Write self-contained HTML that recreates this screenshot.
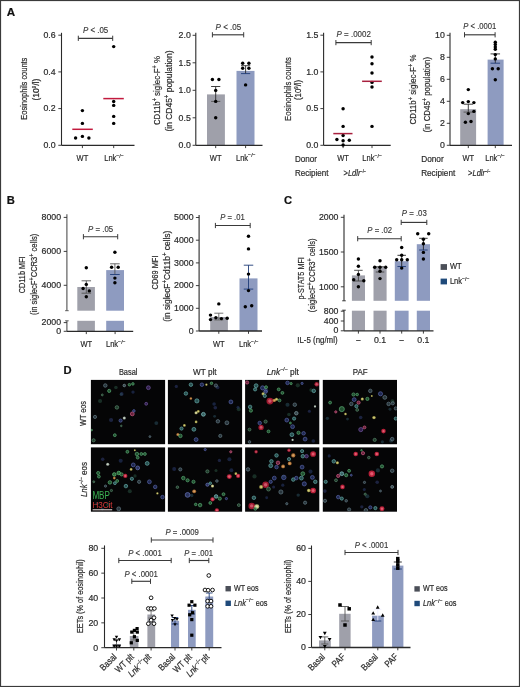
<!DOCTYPE html>
<html><head><meta charset="utf-8"><title>Figure</title>
<style>
html,body{margin:0;padding:0;background:#fff;}
body{width:520px;height:687px;overflow:hidden;}
svg{display:block;will-change:transform;}
text{font-family:"Liberation Sans", sans-serif;}
</style></head>
<body>
<svg width="520" height="687" viewBox="0 0 520 687" font-family="Liberation Sans, sans-serif">
<rect x="0.00" y="0.00" width="520.00" height="687.00" fill="#fff" />
<rect x="0.5" y="0.5" width="519" height="686" fill="none" stroke="#3a3a3a" stroke-width="1.2"/>
<text transform="translate(6.80,16.40)" font-size="11.60" text-anchor="start" fill="#111" font-weight="bold" font-style="normal"  stroke="#111" stroke-width="0.2">A</text>
<text transform="translate(6.80,203.80)" font-size="11.20" text-anchor="start" fill="#111" font-weight="bold" font-style="normal"  stroke="#111" stroke-width="0.2">B</text>
<text transform="translate(283.90,203.80)" font-size="11.20" text-anchor="start" fill="#111" font-weight="bold" font-style="normal"  stroke="#111" stroke-width="0.2">C</text>
<text transform="translate(63.50,374.00)" font-size="11.20" text-anchor="start" fill="#111" font-weight="bold" font-style="normal"  stroke="#111" stroke-width="0.2">D</text>
<line x1="61.50" y1="32.80" x2="61.50" y2="145.30" stroke="#2a2a2a" stroke-width="1.1" />
<line x1="58.30" y1="35.20" x2="61.50" y2="35.20" stroke="#2a2a2a" stroke-width="0.9" />
<text transform="translate(55.60,38.00) scale(0.98,1)" font-size="8.96" text-anchor="end" fill="#2a2a2a" font-weight="normal" font-style="normal"  stroke="#2a2a2a" stroke-width="0.2">0.6</text>
<line x1="58.30" y1="71.90" x2="61.50" y2="71.90" stroke="#2a2a2a" stroke-width="0.9" />
<text transform="translate(55.60,74.70) scale(0.98,1)" font-size="8.96" text-anchor="end" fill="#2a2a2a" font-weight="normal" font-style="normal"  stroke="#2a2a2a" stroke-width="0.2">0.4</text>
<line x1="58.30" y1="108.60" x2="61.50" y2="108.60" stroke="#2a2a2a" stroke-width="0.9" />
<text transform="translate(55.60,111.40) scale(0.98,1)" font-size="8.96" text-anchor="end" fill="#2a2a2a" font-weight="normal" font-style="normal"  stroke="#2a2a2a" stroke-width="0.2">0.2</text>
<line x1="58.30" y1="145.30" x2="61.50" y2="145.30" stroke="#2a2a2a" stroke-width="0.9" />
<text transform="translate(55.60,148.10) scale(0.98,1)" font-size="8.96" text-anchor="end" fill="#2a2a2a" font-weight="normal" font-style="normal"  stroke="#2a2a2a" stroke-width="0.2">0.0</text>
<line x1="61.50" y1="145.30" x2="134.50" y2="145.30" stroke="#2a2a2a" stroke-width="1.3" />
<line x1="82.40" y1="145.30" x2="82.40" y2="148.10" stroke="#2a2a2a" stroke-width="0.9" />
<line x1="113.70" y1="145.30" x2="113.70" y2="148.10" stroke="#2a2a2a" stroke-width="0.9" />
<text transform="translate(82.40,161.40) scale(0.84,1)" font-size="8.96" text-anchor="middle" fill="#2a2a2a" font-weight="normal" font-style="normal"  stroke="#2a2a2a" stroke-width="0.2">WT</text>
<text transform="translate(104.20,161.40) scale(0.84,1)" font-size="8.96" text-anchor="start" fill="#2a2a2a" font-weight="normal" font-style="normal"  stroke="#2a2a2a" stroke-width="0.2">Lnk<tspan font-size="6.2" dy="-3.4">−/−</tspan></text>
<text transform="translate(26.80,88.70) rotate(-90)" font-size="9.63" text-anchor="middle" fill="#2a2a2a" font-weight="normal" font-style="normal" textLength="62" lengthAdjust="spacingAndGlyphs"  stroke="#2a2a2a" stroke-width="0.2">Eosinophils counts</text>
<text transform="translate(38.60,89.60) rotate(-90)" font-size="9.63" text-anchor="middle" fill="#2a2a2a" font-weight="normal" font-style="normal" textLength="22" lengthAdjust="spacingAndGlyphs"  stroke="#2a2a2a" stroke-width="0.2">(10<tspan font-size="5" dy="-3">9</tspan><tspan dy="3">/l)</tspan></text>
<line x1="78.30" y1="38.30" x2="112.70" y2="38.30" stroke="#3a3a3a" stroke-width="1.15" />
<line x1="78.30" y1="35.70" x2="78.30" y2="40.90" stroke="#3a3a3a" stroke-width="1.0" />
<line x1="112.70" y1="35.70" x2="112.70" y2="40.90" stroke="#3a3a3a" stroke-width="1.0" />
<text transform="translate(95.60,32.90)" font-size="8.51" text-anchor="middle" fill="#383838" font-weight="normal" font-style="normal" textLength="25.3" lengthAdjust="spacingAndGlyphs"  stroke="#383838" stroke-width="0.15"><tspan font-style="italic">P</tspan> &lt; .05</text>
<circle cx="82.40" cy="110.60" r="1.72" fill="#000"/>
<circle cx="82.40" cy="123.40" r="1.72" fill="#000"/>
<circle cx="75.60" cy="138.00" r="1.72" fill="#000"/>
<circle cx="82.40" cy="136.40" r="1.72" fill="#000"/>
<circle cx="88.90" cy="138.00" r="1.72" fill="#000"/>
<circle cx="113.70" cy="46.60" r="1.72" fill="#000"/>
<circle cx="113.70" cy="101.50" r="1.72" fill="#000"/>
<circle cx="113.70" cy="105.40" r="1.72" fill="#000"/>
<circle cx="113.70" cy="116.40" r="1.72" fill="#000"/>
<circle cx="113.70" cy="123.40" r="1.72" fill="#000"/>
<line x1="72.30" y1="129.30" x2="92.80" y2="129.30" stroke="#c21a3e" stroke-width="1.5" />
<line x1="103.30" y1="98.60" x2="123.80" y2="98.60" stroke="#c21a3e" stroke-width="1.5" />
<line x1="195.80" y1="32.80" x2="195.80" y2="145.30" stroke="#2a2a2a" stroke-width="1.1" />
<line x1="192.60" y1="35.30" x2="195.80" y2="35.30" stroke="#2a2a2a" stroke-width="0.9" />
<text transform="translate(190.80,38.10) scale(0.98,1)" font-size="8.96" text-anchor="end" fill="#2a2a2a" font-weight="normal" font-style="normal"  stroke="#2a2a2a" stroke-width="0.2">2.0</text>
<line x1="192.60" y1="62.80" x2="195.80" y2="62.80" stroke="#2a2a2a" stroke-width="0.9" />
<text transform="translate(190.80,65.60) scale(0.98,1)" font-size="8.96" text-anchor="end" fill="#2a2a2a" font-weight="normal" font-style="normal"  stroke="#2a2a2a" stroke-width="0.2">1.5</text>
<line x1="192.60" y1="90.30" x2="195.80" y2="90.30" stroke="#2a2a2a" stroke-width="0.9" />
<text transform="translate(190.80,93.10) scale(0.98,1)" font-size="8.96" text-anchor="end" fill="#2a2a2a" font-weight="normal" font-style="normal"  stroke="#2a2a2a" stroke-width="0.2">1.0</text>
<line x1="192.60" y1="117.80" x2="195.80" y2="117.80" stroke="#2a2a2a" stroke-width="0.9" />
<text transform="translate(190.80,120.60) scale(0.98,1)" font-size="8.96" text-anchor="end" fill="#2a2a2a" font-weight="normal" font-style="normal"  stroke="#2a2a2a" stroke-width="0.2">0.5</text>
<line x1="192.60" y1="145.30" x2="195.80" y2="145.30" stroke="#2a2a2a" stroke-width="0.9" />
<text transform="translate(190.80,148.10) scale(0.98,1)" font-size="8.96" text-anchor="end" fill="#2a2a2a" font-weight="normal" font-style="normal"  stroke="#2a2a2a" stroke-width="0.2">0.0</text>
<rect x="207.00" y="94.40" width="17.90" height="50.90" fill="#9fa0aa" />
<rect x="236.50" y="70.90" width="18.00" height="74.40" fill="#8e9bc0" />
<line x1="195.80" y1="145.30" x2="262.50" y2="145.30" stroke="#2a2a2a" stroke-width="1.3" />
<line x1="215.70" y1="145.30" x2="215.70" y2="148.10" stroke="#2a2a2a" stroke-width="0.9" />
<line x1="245.60" y1="145.30" x2="245.60" y2="148.10" stroke="#2a2a2a" stroke-width="0.9" />
<text transform="translate(215.70,160.80) scale(0.84,1)" font-size="8.96" text-anchor="middle" fill="#2a2a2a" font-weight="normal" font-style="normal"  stroke="#2a2a2a" stroke-width="0.2">WT</text>
<text transform="translate(236.00,160.80) scale(0.84,1)" font-size="8.96" text-anchor="start" fill="#2a2a2a" font-weight="normal" font-style="normal"  stroke="#2a2a2a" stroke-width="0.2">Lnk<tspan font-size="6.2" dy="-3.4">−/−</tspan></text>
<text transform="translate(160.00,90.60) rotate(-90)" font-size="9.63" text-anchor="middle" fill="#2a2a2a" font-weight="normal" font-style="normal" textLength="69" lengthAdjust="spacingAndGlyphs"  stroke="#2a2a2a" stroke-width="0.2">CD11b<tspan font-size="6.8" dy="-3">+</tspan><tspan dy="3"> siglec-F</tspan><tspan font-size="6.8" dy="-3">+</tspan><tspan dy="3"> %</tspan></text>
<text transform="translate(171.80,91.00) rotate(-90)" font-size="9.63" text-anchor="middle" fill="#2a2a2a" font-weight="normal" font-style="normal" textLength="81" lengthAdjust="spacingAndGlyphs"  stroke="#2a2a2a" stroke-width="0.2">(in CD45<tspan font-size="6.8" dy="-3">+</tspan><tspan dy="3"> population)</tspan></text>
<line x1="212.40" y1="34.80" x2="243.70" y2="34.80" stroke="#3a3a3a" stroke-width="1.15" />
<line x1="212.40" y1="32.20" x2="212.40" y2="37.40" stroke="#3a3a3a" stroke-width="1.0" />
<line x1="243.70" y1="32.20" x2="243.70" y2="37.40" stroke="#3a3a3a" stroke-width="1.0" />
<text transform="translate(228.40,30.00)" font-size="8.51" text-anchor="middle" fill="#383838" font-weight="normal" font-style="normal" textLength="25.6" lengthAdjust="spacingAndGlyphs"  stroke="#383838" stroke-width="0.15"><tspan font-style="italic">P</tspan> &lt; .05</text>
<line x1="215.70" y1="86.50" x2="215.70" y2="101.40" stroke="#2a2a2a" stroke-width="0.9" />
<line x1="211.10" y1="86.50" x2="220.30" y2="86.50" stroke="#2a2a2a" stroke-width="0.9" />
<line x1="211.10" y1="101.40" x2="220.30" y2="101.40" stroke="#555" stroke-width="0.9" />
<line x1="245.60" y1="65.70" x2="245.60" y2="73.60" stroke="#2a2a2a" stroke-width="0.9" />
<line x1="241.00" y1="65.70" x2="250.20" y2="65.70" stroke="#2a2a2a" stroke-width="0.9" />
<line x1="241.00" y1="73.60" x2="250.20" y2="73.60" stroke="#1f3c78" stroke-width="0.9" />
<circle cx="212.40" cy="79.50" r="1.72" fill="#000"/>
<circle cx="218.90" cy="79.50" r="1.72" fill="#000"/>
<circle cx="215.70" cy="90.40" r="1.72" fill="#000"/>
<circle cx="215.70" cy="101.40" r="1.72" fill="#000"/>
<circle cx="215.70" cy="117.80" r="1.72" fill="#000"/>
<circle cx="242.70" cy="63.20" r="1.72" fill="#000"/>
<circle cx="248.90" cy="63.20" r="1.72" fill="#000"/>
<circle cx="242.70" cy="68.30" r="1.72" fill="#000"/>
<circle cx="248.90" cy="68.30" r="1.72" fill="#000"/>
<circle cx="245.60" cy="84.90" r="1.72" fill="#000"/>
<line x1="323.60" y1="32.80" x2="323.60" y2="145.30" stroke="#2a2a2a" stroke-width="1.1" />
<line x1="320.40" y1="35.20" x2="323.60" y2="35.20" stroke="#2a2a2a" stroke-width="0.9" />
<text transform="translate(318.40,38.00) scale(0.98,1)" font-size="8.96" text-anchor="end" fill="#2a2a2a" font-weight="normal" font-style="normal"  stroke="#2a2a2a" stroke-width="0.2">1.5</text>
<line x1="320.40" y1="71.90" x2="323.60" y2="71.90" stroke="#2a2a2a" stroke-width="0.9" />
<text transform="translate(318.40,74.70) scale(0.98,1)" font-size="8.96" text-anchor="end" fill="#2a2a2a" font-weight="normal" font-style="normal"  stroke="#2a2a2a" stroke-width="0.2">1.0</text>
<line x1="320.40" y1="108.60" x2="323.60" y2="108.60" stroke="#2a2a2a" stroke-width="0.9" />
<text transform="translate(318.40,111.40) scale(0.98,1)" font-size="8.96" text-anchor="end" fill="#2a2a2a" font-weight="normal" font-style="normal"  stroke="#2a2a2a" stroke-width="0.2">0.5</text>
<line x1="320.40" y1="145.30" x2="323.60" y2="145.30" stroke="#2a2a2a" stroke-width="0.9" />
<text transform="translate(318.40,148.10) scale(0.98,1)" font-size="8.96" text-anchor="end" fill="#2a2a2a" font-weight="normal" font-style="normal"  stroke="#2a2a2a" stroke-width="0.2">0.0</text>
<line x1="323.60" y1="145.30" x2="390.70" y2="145.30" stroke="#2a2a2a" stroke-width="1.3" />
<line x1="343.10" y1="145.30" x2="343.10" y2="148.10" stroke="#2a2a2a" stroke-width="0.9" />
<line x1="372.00" y1="145.30" x2="372.00" y2="148.10" stroke="#2a2a2a" stroke-width="0.9" />
<text transform="translate(343.10,161.40) scale(0.84,1)" font-size="8.96" text-anchor="middle" fill="#2a2a2a" font-weight="normal" font-style="normal"  stroke="#2a2a2a" stroke-width="0.2">WT</text>
<text transform="translate(362.30,161.40) scale(0.84,1)" font-size="8.96" text-anchor="start" fill="#2a2a2a" font-weight="normal" font-style="normal"  stroke="#2a2a2a" stroke-width="0.2">Lnk<tspan font-size="6.2" dy="-3.4">−/−</tspan></text>
<text transform="translate(295.00,161.60)" font-size="8.96" text-anchor="start" fill="#2a2a2a" font-weight="normal" font-style="normal" textLength="22" lengthAdjust="spacingAndGlyphs"  stroke="#2a2a2a" stroke-width="0.2">Donor</text>
<text transform="translate(295.00,176.40)" font-size="8.96" text-anchor="start" fill="#2a2a2a" font-weight="normal" font-style="normal" textLength="33.5" lengthAdjust="spacingAndGlyphs"  stroke="#2a2a2a" stroke-width="0.2">Recipient</text>
<text transform="translate(343.50,176.40) scale(0.84,1)" font-size="8.96" text-anchor="start" fill="#2a2a2a" font-weight="normal" font-style="normal"  stroke="#2a2a2a" stroke-width="0.2">&gt;<tspan font-style="italic">Ldlr</tspan><tspan font-size="4.6" dy="-3.2">−/−</tspan></text>
<text transform="translate(290.60,89.00) rotate(-90)" font-size="9.63" text-anchor="middle" fill="#2a2a2a" font-weight="normal" font-style="normal" textLength="63.8" lengthAdjust="spacingAndGlyphs"  stroke="#2a2a2a" stroke-width="0.2">Eosinophils counts</text>
<text transform="translate(301.20,89.90) rotate(-90)" font-size="9.63" text-anchor="middle" fill="#2a2a2a" font-weight="normal" font-style="normal" textLength="20.2" lengthAdjust="spacingAndGlyphs"  stroke="#2a2a2a" stroke-width="0.2">(10<tspan font-size="5" dy="-3">9</tspan><tspan dy="3">/l)</tspan></text>
<line x1="335.90" y1="42.60" x2="371.20" y2="42.60" stroke="#3a3a3a" stroke-width="1.15" />
<line x1="335.90" y1="40.00" x2="335.90" y2="45.20" stroke="#3a3a3a" stroke-width="1.0" />
<line x1="371.20" y1="40.00" x2="371.20" y2="45.20" stroke="#3a3a3a" stroke-width="1.0" />
<text transform="translate(353.70,37.30)" font-size="8.51" text-anchor="middle" fill="#383838" font-weight="normal" font-style="normal" textLength="34.2" lengthAdjust="spacingAndGlyphs"  stroke="#383838" stroke-width="0.15"><tspan font-style="italic">P</tspan> = .0002</text>
<circle cx="343.10" cy="108.80" r="1.72" fill="#000"/>
<circle cx="343.10" cy="126.40" r="1.72" fill="#000"/>
<circle cx="343.10" cy="135.50" r="1.72" fill="#000"/>
<circle cx="336.90" cy="139.50" r="1.72" fill="#000"/>
<circle cx="343.10" cy="140.80" r="1.72" fill="#000"/>
<circle cx="349.30" cy="140.20" r="1.72" fill="#000"/>
<circle cx="343.10" cy="145.00" r="1.72" fill="#000"/>
<circle cx="372.00" cy="57.00" r="1.72" fill="#000"/>
<circle cx="372.00" cy="63.70" r="1.72" fill="#000"/>
<circle cx="372.00" cy="73.00" r="1.72" fill="#000"/>
<circle cx="372.00" cy="82.40" r="1.72" fill="#000"/>
<circle cx="372.00" cy="87.00" r="1.72" fill="#000"/>
<circle cx="372.00" cy="126.40" r="1.72" fill="#000"/>
<line x1="333.30" y1="133.60" x2="352.50" y2="133.60" stroke="#a8203e" stroke-width="1.5" />
<line x1="362.10" y1="81.30" x2="381.80" y2="81.30" stroke="#a8203e" stroke-width="1.5" />
<line x1="450.00" y1="32.80" x2="450.00" y2="145.30" stroke="#2a2a2a" stroke-width="1.1" />
<line x1="446.80" y1="35.30" x2="450.00" y2="35.30" stroke="#2a2a2a" stroke-width="0.9" />
<text transform="translate(444.80,38.10) scale(0.98,1)" font-size="8.96" text-anchor="end" fill="#2a2a2a" font-weight="normal" font-style="normal"  stroke="#2a2a2a" stroke-width="0.2">10</text>
<line x1="446.80" y1="57.30" x2="450.00" y2="57.30" stroke="#2a2a2a" stroke-width="0.9" />
<text transform="translate(444.80,60.10) scale(0.98,1)" font-size="8.96" text-anchor="end" fill="#2a2a2a" font-weight="normal" font-style="normal"  stroke="#2a2a2a" stroke-width="0.2">8</text>
<line x1="446.80" y1="79.30" x2="450.00" y2="79.30" stroke="#2a2a2a" stroke-width="0.9" />
<text transform="translate(444.80,82.10) scale(0.98,1)" font-size="8.96" text-anchor="end" fill="#2a2a2a" font-weight="normal" font-style="normal"  stroke="#2a2a2a" stroke-width="0.2">6</text>
<line x1="446.80" y1="101.30" x2="450.00" y2="101.30" stroke="#2a2a2a" stroke-width="0.9" />
<text transform="translate(444.80,104.10) scale(0.98,1)" font-size="8.96" text-anchor="end" fill="#2a2a2a" font-weight="normal" font-style="normal"  stroke="#2a2a2a" stroke-width="0.2">4</text>
<line x1="446.80" y1="123.30" x2="450.00" y2="123.30" stroke="#2a2a2a" stroke-width="0.9" />
<text transform="translate(444.80,126.10) scale(0.98,1)" font-size="8.96" text-anchor="end" fill="#2a2a2a" font-weight="normal" font-style="normal"  stroke="#2a2a2a" stroke-width="0.2">2</text>
<line x1="446.80" y1="145.30" x2="450.00" y2="145.30" stroke="#2a2a2a" stroke-width="0.9" />
<text transform="translate(444.80,148.10) scale(0.98,1)" font-size="8.96" text-anchor="end" fill="#2a2a2a" font-weight="normal" font-style="normal"  stroke="#2a2a2a" stroke-width="0.2">0</text>
<rect x="460.20" y="109.20" width="15.90" height="36.10" fill="#9fa0aa" />
<rect x="487.60" y="59.60" width="16.00" height="85.70" fill="#8e9bc0" />
<line x1="450.00" y1="145.30" x2="512.00" y2="145.30" stroke="#2a2a2a" stroke-width="1.3" />
<line x1="468.30" y1="145.30" x2="468.30" y2="148.10" stroke="#2a2a2a" stroke-width="0.9" />
<line x1="495.30" y1="145.30" x2="495.30" y2="148.10" stroke="#2a2a2a" stroke-width="0.9" />
<text transform="translate(468.30,161.40) scale(0.84,1)" font-size="8.96" text-anchor="middle" fill="#2a2a2a" font-weight="normal" font-style="normal"  stroke="#2a2a2a" stroke-width="0.2">WT</text>
<text transform="translate(485.20,161.40) scale(0.84,1)" font-size="8.96" text-anchor="start" fill="#2a2a2a" font-weight="normal" font-style="normal"  stroke="#2a2a2a" stroke-width="0.2">Lnk<tspan font-size="6.2" dy="-3.4">−/−</tspan></text>
<text transform="translate(421.20,161.60)" font-size="8.96" text-anchor="start" fill="#2a2a2a" font-weight="normal" font-style="normal" textLength="22.5" lengthAdjust="spacingAndGlyphs"  stroke="#2a2a2a" stroke-width="0.2">Donor</text>
<text transform="translate(421.20,176.40)" font-size="8.96" text-anchor="start" fill="#2a2a2a" font-weight="normal" font-style="normal" textLength="34" lengthAdjust="spacingAndGlyphs"  stroke="#2a2a2a" stroke-width="0.2">Recipient</text>
<text transform="translate(468.10,176.40) scale(0.84,1)" font-size="8.96" text-anchor="start" fill="#2a2a2a" font-weight="normal" font-style="normal"  stroke="#2a2a2a" stroke-width="0.2">&gt;<tspan font-style="italic">Ldlr</tspan><tspan font-size="4.6" dy="-3.2">−/−</tspan></text>
<text transform="translate(416.40,89.50) rotate(-90)" font-size="9.63" text-anchor="middle" fill="#2a2a2a" font-weight="normal" font-style="normal" textLength="70" lengthAdjust="spacingAndGlyphs"  stroke="#2a2a2a" stroke-width="0.2">CD11b<tspan font-size="6.8" dy="-3">+</tspan><tspan dy="3"> siglec-F</tspan><tspan font-size="6.8" dy="-3">+</tspan><tspan dy="3"> %</tspan></text>
<text transform="translate(429.60,94.60) rotate(-90)" font-size="9.63" text-anchor="middle" fill="#2a2a2a" font-weight="normal" font-style="normal" textLength="75.3" lengthAdjust="spacingAndGlyphs"  stroke="#2a2a2a" stroke-width="0.2">(in CD45<tspan font-size="6.8" dy="-3">+</tspan><tspan dy="3"> population)</tspan></text>
<line x1="464.50" y1="34.80" x2="495.10" y2="34.80" stroke="#3a3a3a" stroke-width="1.15" />
<line x1="464.50" y1="32.20" x2="464.50" y2="37.40" stroke="#3a3a3a" stroke-width="1.0" />
<line x1="495.10" y1="32.20" x2="495.10" y2="37.40" stroke="#3a3a3a" stroke-width="1.0" />
<text transform="translate(479.80,29.20)" font-size="8.51" text-anchor="middle" fill="#383838" font-weight="normal" font-style="normal" textLength="33" lengthAdjust="spacingAndGlyphs"  stroke="#383838" stroke-width="0.15"><tspan font-style="italic">P</tspan> &lt; .0001</text>
<line x1="468.30" y1="104.20" x2="468.30" y2="112.10" stroke="#2a2a2a" stroke-width="0.9" />
<line x1="463.55" y1="104.20" x2="473.05" y2="104.20" stroke="#2a2a2a" stroke-width="0.9" />
<line x1="463.55" y1="112.10" x2="473.05" y2="112.10" stroke="#555" stroke-width="0.9" />
<line x1="495.30" y1="53.90" x2="495.30" y2="63.20" stroke="#2a2a2a" stroke-width="0.9" />
<line x1="490.55" y1="53.90" x2="500.05" y2="53.90" stroke="#2a2a2a" stroke-width="0.9" />
<line x1="490.55" y1="63.20" x2="500.05" y2="63.20" stroke="#1f3c78" stroke-width="0.9" />
<circle cx="468.30" cy="89.60" r="1.72" fill="#000"/>
<circle cx="462.70" cy="102.60" r="1.72" fill="#000"/>
<circle cx="468.30" cy="101.60" r="1.72" fill="#000"/>
<circle cx="473.90" cy="102.60" r="1.72" fill="#000"/>
<circle cx="473.90" cy="111.40" r="1.72" fill="#000"/>
<circle cx="468.30" cy="113.60" r="1.72" fill="#000"/>
<circle cx="465.40" cy="122.20" r="1.72" fill="#000"/>
<circle cx="471.00" cy="121.50" r="1.72" fill="#000"/>
<circle cx="495.30" cy="42.30" r="1.72" fill="#000"/>
<circle cx="495.30" cy="44.50" r="1.72" fill="#000"/>
<circle cx="495.30" cy="46.90" r="1.72" fill="#000"/>
<circle cx="495.30" cy="49.20" r="1.72" fill="#000"/>
<circle cx="495.30" cy="54.60" r="1.72" fill="#000"/>
<circle cx="495.30" cy="58.90" r="1.72" fill="#000"/>
<circle cx="492.40" cy="68.70" r="1.72" fill="#000"/>
<circle cx="498.20" cy="68.70" r="1.72" fill="#000"/>
<circle cx="495.30" cy="79.80" r="1.72" fill="#000"/>
<line x1="66.90" y1="214.20" x2="66.90" y2="310.70" stroke="#505050" stroke-width="1.1" />
<line x1="66.90" y1="320.80" x2="66.90" y2="331.30" stroke="#505050" stroke-width="1.1" />
<line x1="65.10" y1="310.70" x2="68.70" y2="310.70" stroke="#505050" stroke-width="0.9" />
<line x1="65.10" y1="320.80" x2="68.70" y2="320.80" stroke="#505050" stroke-width="0.9" />
<line x1="63.70" y1="217.40" x2="66.90" y2="217.40" stroke="#2a2a2a" stroke-width="0.9" />
<line x1="63.70" y1="251.40" x2="66.90" y2="251.40" stroke="#2a2a2a" stroke-width="0.9" />
<line x1="63.70" y1="285.30" x2="66.90" y2="285.30" stroke="#2a2a2a" stroke-width="0.9" />
<line x1="63.70" y1="322.60" x2="66.90" y2="322.60" stroke="#2a2a2a" stroke-width="0.9" />
<line x1="63.70" y1="331.30" x2="66.90" y2="331.30" stroke="#2a2a2a" stroke-width="0.9" />
<text transform="translate(61.10,220.20) scale(0.98,1)" font-size="8.96" text-anchor="end" fill="#2a2a2a" font-weight="normal" font-style="normal"  stroke="#2a2a2a" stroke-width="0.2">8000</text>
<text transform="translate(61.10,254.20) scale(0.98,1)" font-size="8.96" text-anchor="end" fill="#2a2a2a" font-weight="normal" font-style="normal"  stroke="#2a2a2a" stroke-width="0.2">6000</text>
<text transform="translate(61.10,288.10) scale(0.98,1)" font-size="8.96" text-anchor="end" fill="#2a2a2a" font-weight="normal" font-style="normal"  stroke="#2a2a2a" stroke-width="0.2">4000</text>
<text transform="translate(61.10,325.40) scale(0.98,1)" font-size="8.96" text-anchor="end" fill="#2a2a2a" font-weight="normal" font-style="normal"  stroke="#2a2a2a" stroke-width="0.2">2000</text>
<text transform="translate(61.10,333.60) scale(0.98,1)" font-size="8.96" text-anchor="end" fill="#2a2a2a" font-weight="normal" font-style="normal"  stroke="#2a2a2a" stroke-width="0.2">0</text>
<rect x="77.30" y="287.00" width="17.60" height="23.70" fill="#9fa0aa" />
<rect x="77.30" y="320.80" width="17.60" height="10.50" fill="#9fa0aa" />
<rect x="106.20" y="270.10" width="17.80" height="40.60" fill="#8e9bc0" />
<rect x="106.20" y="320.80" width="17.80" height="10.50" fill="#8e9bc0" />
<line x1="66.90" y1="331.30" x2="133.20" y2="331.30" stroke="#2a2a2a" stroke-width="1.3" />
<line x1="86.30" y1="331.30" x2="86.30" y2="334.10" stroke="#2a2a2a" stroke-width="0.9" />
<line x1="115.10" y1="331.30" x2="115.10" y2="334.10" stroke="#2a2a2a" stroke-width="0.9" />
<text transform="translate(86.30,347.40) scale(0.84,1)" font-size="8.96" text-anchor="middle" fill="#2a2a2a" font-weight="normal" font-style="normal"  stroke="#2a2a2a" stroke-width="0.2">WT</text>
<text transform="translate(106.00,347.40) scale(0.84,1)" font-size="8.96" text-anchor="start" fill="#2a2a2a" font-weight="normal" font-style="normal"  stroke="#2a2a2a" stroke-width="0.2">Lnk<tspan font-size="6.2" dy="-3.4">−/−</tspan></text>
<text transform="translate(24.60,274.80) rotate(-90)" font-size="9.63" text-anchor="middle" fill="#2a2a2a" font-weight="normal" font-style="normal" textLength="36.9" lengthAdjust="spacingAndGlyphs"  stroke="#2a2a2a" stroke-width="0.2">CD11b MFI</text>
<text transform="translate(37.40,274.40) rotate(-90)" font-size="9.63" text-anchor="middle" fill="#2a2a2a" font-weight="normal" font-style="normal" textLength="81.4" lengthAdjust="spacingAndGlyphs"  stroke="#2a2a2a" stroke-width="0.2">(in siglecF<tspan font-size="6.8" dy="-3">+</tspan><tspan dy="3">CCR3</tspan><tspan font-size="6.8" dy="-3">+</tspan><tspan dy="3"> cells)</tspan></text>
<line x1="83.40" y1="236.70" x2="117.70" y2="236.70" stroke="#3a3a3a" stroke-width="1.15" />
<line x1="83.40" y1="234.10" x2="83.40" y2="239.30" stroke="#3a3a3a" stroke-width="1.0" />
<line x1="117.70" y1="234.10" x2="117.70" y2="239.30" stroke="#3a3a3a" stroke-width="1.0" />
<text transform="translate(100.60,231.60)" font-size="8.51" text-anchor="middle" fill="#383838" font-weight="normal" font-style="normal" textLength="25" lengthAdjust="spacingAndGlyphs"  stroke="#383838" stroke-width="0.15"><tspan font-style="italic">P</tspan> = .05</text>
<line x1="86.30" y1="280.80" x2="86.30" y2="293.20" stroke="#555" stroke-width="0.9" />
<line x1="81.55" y1="280.80" x2="91.05" y2="280.80" stroke="#555" stroke-width="0.9" />
<line x1="81.55" y1="293.20" x2="91.05" y2="293.20" stroke="#555" stroke-width="0.9" />
<line x1="114.90" y1="263.80" x2="114.90" y2="274.50" stroke="#555" stroke-width="0.9" />
<line x1="110.10" y1="263.80" x2="119.70" y2="263.80" stroke="#555" stroke-width="0.9" />
<line x1="110.10" y1="274.50" x2="119.70" y2="274.50" stroke="#1f3c78" stroke-width="0.9" />
<circle cx="86.30" cy="267.70" r="1.72" fill="#000"/>
<circle cx="86.30" cy="284.40" r="1.72" fill="#000"/>
<circle cx="83.10" cy="288.50" r="1.72" fill="#000"/>
<circle cx="89.30" cy="290.90" r="1.72" fill="#000"/>
<circle cx="86.30" cy="296.70" r="1.72" fill="#000"/>
<circle cx="114.90" cy="252.30" r="1.72" fill="#000"/>
<circle cx="111.60" cy="267.20" r="1.72" fill="#000"/>
<circle cx="118.20" cy="267.20" r="1.72" fill="#000"/>
<circle cx="114.90" cy="278.10" r="1.72" fill="#000"/>
<circle cx="114.90" cy="282.70" r="1.72" fill="#000"/>
<line x1="199.10" y1="215.00" x2="199.10" y2="331.00" stroke="#2a2a2a" stroke-width="1.1" />
<line x1="195.90" y1="217.50" x2="199.10" y2="217.50" stroke="#2a2a2a" stroke-width="0.9" />
<text transform="translate(193.60,220.30) scale(0.98,1)" font-size="8.96" text-anchor="end" fill="#2a2a2a" font-weight="normal" font-style="normal"  stroke="#2a2a2a" stroke-width="0.2">5000</text>
<line x1="195.90" y1="240.20" x2="199.10" y2="240.20" stroke="#2a2a2a" stroke-width="0.9" />
<text transform="translate(193.60,243.00) scale(0.98,1)" font-size="8.96" text-anchor="end" fill="#2a2a2a" font-weight="normal" font-style="normal"  stroke="#2a2a2a" stroke-width="0.2">4000</text>
<line x1="195.90" y1="262.90" x2="199.10" y2="262.90" stroke="#2a2a2a" stroke-width="0.9" />
<text transform="translate(193.60,265.70) scale(0.98,1)" font-size="8.96" text-anchor="end" fill="#2a2a2a" font-weight="normal" font-style="normal"  stroke="#2a2a2a" stroke-width="0.2">3000</text>
<line x1="195.90" y1="285.60" x2="199.10" y2="285.60" stroke="#2a2a2a" stroke-width="0.9" />
<text transform="translate(193.60,288.40) scale(0.98,1)" font-size="8.96" text-anchor="end" fill="#2a2a2a" font-weight="normal" font-style="normal"  stroke="#2a2a2a" stroke-width="0.2">2000</text>
<line x1="195.90" y1="308.30" x2="199.10" y2="308.30" stroke="#2a2a2a" stroke-width="0.9" />
<text transform="translate(193.60,311.10) scale(0.98,1)" font-size="8.96" text-anchor="end" fill="#2a2a2a" font-weight="normal" font-style="normal"  stroke="#2a2a2a" stroke-width="0.2">1000</text>
<line x1="195.90" y1="331.00" x2="199.10" y2="331.00" stroke="#2a2a2a" stroke-width="0.9" />
<text transform="translate(193.60,333.80) scale(0.98,1)" font-size="8.96" text-anchor="end" fill="#2a2a2a" font-weight="normal" font-style="normal"  stroke="#2a2a2a" stroke-width="0.2">0</text>
<rect x="210.20" y="317.00" width="17.70" height="14.00" fill="#9fa0aa" />
<rect x="239.50" y="278.40" width="18.00" height="52.60" fill="#8e9bc0" />
<line x1="199.10" y1="331.00" x2="262.00" y2="331.00" stroke="#2a2a2a" stroke-width="1.3" />
<line x1="218.80" y1="331.00" x2="218.80" y2="333.80" stroke="#2a2a2a" stroke-width="0.9" />
<line x1="248.50" y1="331.00" x2="248.50" y2="333.80" stroke="#2a2a2a" stroke-width="0.9" />
<text transform="translate(218.80,347.40) scale(0.84,1)" font-size="8.96" text-anchor="middle" fill="#2a2a2a" font-weight="normal" font-style="normal"  stroke="#2a2a2a" stroke-width="0.2">WT</text>
<text transform="translate(239.00,347.40) scale(0.84,1)" font-size="8.96" text-anchor="start" fill="#2a2a2a" font-weight="normal" font-style="normal"  stroke="#2a2a2a" stroke-width="0.2">Lnk<tspan font-size="6.2" dy="-3.4">−/−</tspan></text>
<text transform="translate(157.60,272.50) rotate(-90)" font-size="9.63" text-anchor="middle" fill="#2a2a2a" font-weight="normal" font-style="normal" textLength="34" lengthAdjust="spacingAndGlyphs"  stroke="#2a2a2a" stroke-width="0.2">CD69 MFI</text>
<text transform="translate(169.60,276.20) rotate(-90)" font-size="9.63" text-anchor="middle" fill="#2a2a2a" font-weight="normal" font-style="normal" textLength="91" lengthAdjust="spacingAndGlyphs"  stroke="#2a2a2a" stroke-width="0.2">(in siglecF<tspan font-size="6.8" dy="-3">+</tspan><tspan dy="3">Cd11b</tspan><tspan font-size="6.8" dy="-3">+</tspan><tspan dy="3"> cells)</tspan></text>
<line x1="215.40" y1="225.50" x2="250.20" y2="225.50" stroke="#3a3a3a" stroke-width="1.15" />
<line x1="215.40" y1="222.90" x2="215.40" y2="228.10" stroke="#3a3a3a" stroke-width="1.0" />
<line x1="250.20" y1="222.90" x2="250.20" y2="228.10" stroke="#3a3a3a" stroke-width="1.0" />
<text transform="translate(232.40,219.70)" font-size="8.51" text-anchor="middle" fill="#383838" font-weight="normal" font-style="normal" textLength="24.5" lengthAdjust="spacingAndGlyphs"  stroke="#383838" stroke-width="0.15"><tspan font-style="italic">P</tspan> = .01</text>
<line x1="248.50" y1="265.20" x2="248.50" y2="289.10" stroke="#1f3c78" stroke-width="0.9" />
<line x1="243.75" y1="265.20" x2="253.25" y2="265.20" stroke="#1f3c78" stroke-width="0.9" />
<line x1="243.75" y1="289.10" x2="253.25" y2="289.10" stroke="#1f3c78" stroke-width="0.9" />
<line x1="218.80" y1="313.20" x2="218.80" y2="320.00" stroke="#666" stroke-width="0.9" />
<line x1="214.30" y1="313.20" x2="223.30" y2="313.20" stroke="#666" stroke-width="0.9" />
<line x1="214.30" y1="320.00" x2="223.30" y2="320.00" stroke="#666" stroke-width="0.9" />
<circle cx="218.80" cy="303.90" r="1.72" fill="#000"/>
<circle cx="210.50" cy="315.10" r="1.72" fill="#000"/>
<circle cx="210.50" cy="319.60" r="1.72" fill="#000"/>
<circle cx="215.90" cy="317.70" r="1.72" fill="#000"/>
<circle cx="221.40" cy="318.60" r="1.72" fill="#000"/>
<circle cx="227.20" cy="318.30" r="1.72" fill="#000"/>
<circle cx="248.50" cy="236.20" r="1.72" fill="#000"/>
<circle cx="248.50" cy="248.90" r="1.72" fill="#000"/>
<circle cx="248.50" cy="274.10" r="1.72" fill="#000"/>
<circle cx="248.50" cy="290.60" r="1.72" fill="#000"/>
<circle cx="245.30" cy="306.70" r="1.72" fill="#000"/>
<circle cx="251.70" cy="305.80" r="1.72" fill="#000"/>
<line x1="344.00" y1="214.80" x2="344.00" y2="300.80" stroke="#2a2a2a" stroke-width="1.1" />
<line x1="344.00" y1="310.20" x2="344.00" y2="330.80" stroke="#2a2a2a" stroke-width="1.1" />
<line x1="342.20" y1="300.80" x2="345.80" y2="300.80" stroke="#2a2a2a" stroke-width="0.9" />
<line x1="342.20" y1="310.20" x2="345.80" y2="310.20" stroke="#2a2a2a" stroke-width="0.9" />
<line x1="340.80" y1="217.30" x2="344.00" y2="217.30" stroke="#2a2a2a" stroke-width="0.9" />
<line x1="340.80" y1="252.00" x2="344.00" y2="252.00" stroke="#2a2a2a" stroke-width="0.9" />
<line x1="340.80" y1="286.80" x2="344.00" y2="286.80" stroke="#2a2a2a" stroke-width="0.9" />
<line x1="340.80" y1="311.20" x2="344.00" y2="311.20" stroke="#2a2a2a" stroke-width="0.9" />
<line x1="340.80" y1="321.00" x2="344.00" y2="321.00" stroke="#2a2a2a" stroke-width="0.9" />
<line x1="340.80" y1="330.80" x2="344.00" y2="330.80" stroke="#2a2a2a" stroke-width="0.9" />
<text transform="translate(338.40,220.10) scale(0.98,1)" font-size="8.96" text-anchor="end" fill="#2a2a2a" font-weight="normal" font-style="normal"  stroke="#2a2a2a" stroke-width="0.2">2000</text>
<text transform="translate(338.40,254.80) scale(0.98,1)" font-size="8.96" text-anchor="end" fill="#2a2a2a" font-weight="normal" font-style="normal"  stroke="#2a2a2a" stroke-width="0.2">1500</text>
<text transform="translate(338.40,289.60) scale(0.98,1)" font-size="8.96" text-anchor="end" fill="#2a2a2a" font-weight="normal" font-style="normal"  stroke="#2a2a2a" stroke-width="0.2">1000</text>
<text transform="translate(338.40,314.00) scale(0.98,1)" font-size="8.96" text-anchor="end" fill="#2a2a2a" font-weight="normal" font-style="normal"  stroke="#2a2a2a" stroke-width="0.2">800</text>
<text transform="translate(338.40,323.80) scale(0.98,1)" font-size="8.96" text-anchor="end" fill="#2a2a2a" font-weight="normal" font-style="normal"  stroke="#2a2a2a" stroke-width="0.2">400</text>
<text transform="translate(338.40,333.40) scale(0.98,1)" font-size="8.96" text-anchor="end" fill="#2a2a2a" font-weight="normal" font-style="normal"  stroke="#2a2a2a" stroke-width="0.2">0</text>
<rect x="351.90" y="275.40" width="13.10" height="25.40" fill="#9fa0aa" />
<rect x="351.90" y="310.70" width="13.10" height="20.10" fill="#9fa0aa" />
<rect x="373.50" y="267.00" width="13.10" height="33.80" fill="#9fa0aa" />
<rect x="373.50" y="310.70" width="13.10" height="20.10" fill="#9fa0aa" />
<rect x="394.80" y="261.20" width="13.80" height="39.60" fill="#8e9bc0" />
<rect x="394.80" y="310.70" width="13.80" height="20.10" fill="#8e9bc0" />
<rect x="416.80" y="244.20" width="13.20" height="56.60" fill="#8e9bc0" />
<rect x="416.80" y="310.70" width="13.20" height="20.10" fill="#8e9bc0" />
<line x1="344.00" y1="330.80" x2="433.50" y2="330.80" stroke="#2a2a2a" stroke-width="1.3" />
<line x1="358.40" y1="330.80" x2="358.40" y2="333.60" stroke="#2a2a2a" stroke-width="0.9" />
<line x1="380.00" y1="330.80" x2="380.00" y2="333.60" stroke="#2a2a2a" stroke-width="0.9" />
<line x1="401.70" y1="330.80" x2="401.70" y2="333.60" stroke="#2a2a2a" stroke-width="0.9" />
<line x1="423.40" y1="330.80" x2="423.40" y2="333.60" stroke="#2a2a2a" stroke-width="0.9" />
<text transform="translate(297.20,343.20)" font-size="8.96" text-anchor="start" fill="#2a2a2a" font-weight="normal" font-style="normal" textLength="40.4" lengthAdjust="spacingAndGlyphs"  stroke="#2a2a2a" stroke-width="0.2">IL-5 (ng/ml)</text>
<text transform="translate(358.40,343.20) scale(0.84,1)" font-size="8.96" text-anchor="middle" fill="#2a2a2a" font-weight="normal" font-style="normal"  stroke="#2a2a2a" stroke-width="0.2">–</text>
<text transform="translate(380.00,343.20) scale(0.98,1)" font-size="8.96" text-anchor="middle" fill="#2a2a2a" font-weight="normal" font-style="normal"  stroke="#2a2a2a" stroke-width="0.2">0.1</text>
<text transform="translate(401.70,343.20) scale(0.84,1)" font-size="8.96" text-anchor="middle" fill="#2a2a2a" font-weight="normal" font-style="normal"  stroke="#2a2a2a" stroke-width="0.2">–</text>
<text transform="translate(423.40,343.20) scale(0.98,1)" font-size="8.96" text-anchor="middle" fill="#2a2a2a" font-weight="normal" font-style="normal"  stroke="#2a2a2a" stroke-width="0.2">0.1</text>
<text transform="translate(303.60,278.30) rotate(-90)" font-size="9.63" text-anchor="middle" fill="#2a2a2a" font-weight="normal" font-style="normal" textLength="42.2" lengthAdjust="spacingAndGlyphs"  stroke="#2a2a2a" stroke-width="0.2">p-STAT5 MFI</text>
<text transform="translate(315.40,275.30) rotate(-90)" font-size="9.63" text-anchor="middle" fill="#2a2a2a" font-weight="normal" font-style="normal" textLength="73.7" lengthAdjust="spacingAndGlyphs"  stroke="#2a2a2a" stroke-width="0.2">(siglecF<tspan font-size="6.8" dy="-3">+</tspan><tspan dy="3">CCR3</tspan><tspan font-size="6.8" dy="-3">+</tspan><tspan dy="3"> cells)</tspan></text>
<line x1="357.70" y1="238.70" x2="401.20" y2="238.70" stroke="#3a3a3a" stroke-width="1.15" />
<line x1="357.70" y1="236.10" x2="357.70" y2="241.30" stroke="#3a3a3a" stroke-width="1.0" />
<line x1="401.20" y1="236.10" x2="401.20" y2="241.30" stroke="#3a3a3a" stroke-width="1.0" />
<text transform="translate(379.70,233.40)" font-size="8.51" text-anchor="middle" fill="#383838" font-weight="normal" font-style="normal" textLength="24.7" lengthAdjust="spacingAndGlyphs"  stroke="#383838" stroke-width="0.15"><tspan font-style="italic">P</tspan> = .02</text>
<line x1="401.20" y1="222.40" x2="426.80" y2="222.40" stroke="#3a3a3a" stroke-width="1.15" />
<line x1="401.20" y1="219.80" x2="401.20" y2="225.00" stroke="#3a3a3a" stroke-width="1.0" />
<line x1="426.80" y1="219.80" x2="426.80" y2="225.00" stroke="#3a3a3a" stroke-width="1.0" />
<text transform="translate(414.30,216.40)" font-size="8.51" text-anchor="middle" fill="#383838" font-weight="normal" font-style="normal" textLength="25" lengthAdjust="spacingAndGlyphs"  stroke="#383838" stroke-width="0.15"><tspan font-style="italic">P</tspan> = .03</text>
<line x1="358.40" y1="270.30" x2="358.40" y2="281.00" stroke="#444" stroke-width="0.9" />
<line x1="354.15" y1="270.30" x2="362.65" y2="270.30" stroke="#444" stroke-width="0.9" />
<line x1="354.15" y1="281.00" x2="362.65" y2="281.00" stroke="#444" stroke-width="0.9" />
<line x1="380.00" y1="266.70" x2="380.00" y2="272.00" stroke="#444" stroke-width="0.9" />
<line x1="375.75" y1="266.70" x2="384.25" y2="266.70" stroke="#444" stroke-width="0.9" />
<line x1="375.75" y1="272.00" x2="384.25" y2="272.00" stroke="#444" stroke-width="0.9" />
<line x1="401.70" y1="255.30" x2="401.70" y2="266.50" stroke="#222" stroke-width="0.9" />
<line x1="397.45" y1="255.30" x2="405.95" y2="255.30" stroke="#222" stroke-width="0.9" />
<line x1="397.45" y1="266.50" x2="405.95" y2="266.50" stroke="#1f3c78" stroke-width="0.9" />
<line x1="423.40" y1="238.30" x2="423.40" y2="250.00" stroke="#222" stroke-width="0.9" />
<line x1="419.15" y1="238.30" x2="427.65" y2="238.30" stroke="#222" stroke-width="0.9" />
<line x1="419.15" y1="250.00" x2="427.65" y2="250.00" stroke="#1f3c78" stroke-width="0.9" />
<circle cx="358.40" cy="259.00" r="1.72" fill="#000"/>
<circle cx="358.40" cy="266.30" r="1.72" fill="#000"/>
<circle cx="358.40" cy="274.40" r="1.72" fill="#000"/>
<circle cx="353.70" cy="279.80" r="1.72" fill="#000"/>
<circle cx="363.80" cy="280.80" r="1.72" fill="#000"/>
<circle cx="358.40" cy="286.80" r="1.72" fill="#000"/>
<circle cx="380.00" cy="260.80" r="1.72" fill="#000"/>
<circle cx="374.70" cy="267.20" r="1.72" fill="#000"/>
<circle cx="380.00" cy="267.20" r="1.72" fill="#000"/>
<circle cx="385.70" cy="267.20" r="1.72" fill="#000"/>
<circle cx="380.00" cy="271.20" r="1.72" fill="#000"/>
<circle cx="380.00" cy="278.60" r="1.72" fill="#000"/>
<circle cx="401.70" cy="247.50" r="1.72" fill="#000"/>
<circle cx="401.70" cy="255.30" r="1.72" fill="#000"/>
<circle cx="396.70" cy="259.70" r="1.72" fill="#000"/>
<circle cx="401.70" cy="259.70" r="1.72" fill="#000"/>
<circle cx="407.30" cy="259.70" r="1.72" fill="#000"/>
<circle cx="401.70" cy="268.10" r="1.72" fill="#000"/>
<circle cx="417.70" cy="233.80" r="1.72" fill="#000"/>
<circle cx="428.70" cy="233.80" r="1.72" fill="#000"/>
<circle cx="423.40" cy="239.30" r="1.72" fill="#000"/>
<circle cx="423.40" cy="243.80" r="1.72" fill="#000"/>
<circle cx="423.40" cy="252.40" r="1.72" fill="#000"/>
<circle cx="423.40" cy="259.00" r="1.72" fill="#000"/>
<rect x="440.60" y="264.10" width="6.40" height="5.80" fill="#4b4f58" />
<rect x="440.60" y="278.60" width="6.40" height="5.80" fill="#1f4a7a" />
<text transform="translate(449.90,269.40) scale(0.84,1)" font-size="8.96" text-anchor="start" fill="#2a2a2a" font-weight="normal" font-style="normal"  stroke="#2a2a2a" stroke-width="0.2">WT</text>
<text transform="translate(449.90,283.90) scale(0.84,1)" font-size="8.96" text-anchor="start" fill="#2a2a2a" font-weight="normal" font-style="normal"  stroke="#2a2a2a" stroke-width="0.2">Lnk<tspan font-size="6.2" dy="-3.4">−/−</tspan></text>
<text transform="translate(128.20,374.60)" font-size="8.96" text-anchor="middle" fill="#2a2a2a" font-weight="normal" font-style="normal" textLength="18.6" lengthAdjust="spacingAndGlyphs"  stroke="#2a2a2a" stroke-width="0.2">Basal</text>
<text transform="translate(204.80,374.60)" font-size="8.96" text-anchor="middle" fill="#2a2a2a" font-weight="normal" font-style="normal" textLength="23.5" lengthAdjust="spacingAndGlyphs"  stroke="#2a2a2a" stroke-width="0.2">WT plt</text>
<text transform="translate(282.80,374.50)" font-size="8.96" text-anchor="middle" fill="#2a2a2a" font-weight="normal" font-style="normal" textLength="32.2" lengthAdjust="spacingAndGlyphs"  stroke="#2a2a2a" stroke-width="0.2"><tspan font-style="italic">Lnk</tspan><tspan font-size="5.6" dy="-3.2">−/−</tspan><tspan dy="3.2"> plt</tspan></text>
<text transform="translate(360.10,374.80)" font-size="8.96" text-anchor="middle" fill="#2a2a2a" font-weight="normal" font-style="normal" textLength="14.8" lengthAdjust="spacingAndGlyphs"  stroke="#2a2a2a" stroke-width="0.2">PAF</text>
<text transform="translate(86.00,413.50) rotate(-90)" font-size="8.96" text-anchor="middle" fill="#2a2a2a" font-weight="normal" font-style="normal" textLength="25" lengthAdjust="spacingAndGlyphs"  stroke="#2a2a2a" stroke-width="0.2">WT eos</text>
<text transform="translate(86.60,479.60) rotate(-90)" font-size="8.96" text-anchor="middle" fill="#2a2a2a" font-weight="normal" font-style="normal" textLength="35" lengthAdjust="spacingAndGlyphs"  stroke="#2a2a2a" stroke-width="0.2"><tspan font-style="italic">Lnk</tspan><tspan font-size="5.6" dy="-3.2">−/−</tspan><tspan dy="3.2"> eos</tspan></text>
<defs><clipPath id="ic"><rect x="0" y="0" width="74" height="64"/></clipPath><filter id="bl" x="-10%" y="-10%" width="120%" height="120%"><feGaussianBlur stdDeviation="0.5"/></filter></defs>
<g transform="translate(90.9,379.9)"><rect x="0" y="0" width="74.2" height="64.3" fill="#050506"/>
<g clip-path="url(#ic)" filter="url(#bl)">
<circle cx="65.4" cy="43.2" r="1.94" fill="#2a4a5a" fill-opacity="0.55"/>
<circle cx="20.2" cy="40.1" r="2.03" fill="#303a70" fill-opacity="0.55"/>
<circle cx="42.1" cy="12.2" r="1.69" fill="#28386a" fill-opacity="0.55"/>
<circle cx="9.2" cy="21.1" r="2.07" fill="#2a5040" fill-opacity="0.55"/>
<circle cx="30.8" cy="14.0" r="1.84" fill="#303a70" fill-opacity="0.55"/>
<circle cx="25.0" cy="7.6" r="1.76" fill="#2a5040" fill-opacity="0.55"/>
<circle cx="30.3" cy="14.4" r="1.57" fill="#2a4a5a" fill-opacity="0.55"/>
<circle cx="14.4" cy="5.6" r="1.76" fill="#4a6470" fill-opacity="0.5" stroke="#657b85" stroke-width="0.8" stroke-opacity="0.85"/>
<circle cx="18.3" cy="11.0" r="1.60" fill="#3c9a5a" fill-opacity="0.5" stroke="#59a972" stroke-width="0.8" stroke-opacity="0.85"/>
<circle cx="11.4" cy="15.0" r="0.96" fill="#3a7050" fill-opacity="0.5" stroke="#57856a" stroke-width="0.8" stroke-opacity="0.85"/>
<circle cx="33.4" cy="5.6" r="1.28" fill="#6a8890" fill-opacity="0.5" stroke="#8099a0" stroke-width="0.8" stroke-opacity="0.85"/>
<circle cx="38.5" cy="4.8" r="1.28" fill="#3c9a5a" fill-opacity="0.5" stroke="#59a972" stroke-width="0.8" stroke-opacity="0.85"/>
<circle cx="42.0" cy="4.0" r="1.28" fill="#3c9a5a" fill-opacity="0.5" stroke="#59a972" stroke-width="0.8" stroke-opacity="0.85"/>
<circle cx="57.5" cy="7.8" r="1.92" fill="#5a3a90" fill-opacity="0.5" stroke="#7257a0" stroke-width="0.8" stroke-opacity="0.85"/>
<circle cx="55.3" cy="23.9" r="1.44" fill="#5a3a90" fill-opacity="0.5" stroke="#7257a0" stroke-width="0.8" stroke-opacity="0.85"/>
<circle cx="26.0" cy="27.5" r="1.76" fill="#3a7050" fill-opacity="0.5" stroke="#57856a" stroke-width="0.8" stroke-opacity="0.85"/>
<circle cx="41.4" cy="34.0" r="1.92" fill="#c84070" fill-opacity="0.5" stroke="#d05c85" stroke-width="0.8" stroke-opacity="0.85"/>
<circle cx="43.0" cy="31.0" r="1.28" fill="#3a4a98" fill-opacity="0.5" stroke="#5765a7" stroke-width="0.8" stroke-opacity="0.85"/>
<circle cx="4.1" cy="37.0" r="1.60" fill="#4a6470" fill-opacity="0.5" stroke="#657b85" stroke-width="0.8" stroke-opacity="0.85"/>
<circle cx="29.7" cy="40.7" r="1.60" fill="#3a4a98" fill-opacity="0.5" stroke="#5765a7" stroke-width="0.8" stroke-opacity="0.85"/>
<circle cx="33.4" cy="38.2" r="1.52" fill="#d0e0d0" fill-opacity="0.75"/>
<circle cx="33.4" cy="38.2" r="0.80" fill="#e0eae0" fill-opacity="0.7"/>
<circle cx="30.4" cy="46.0" r="0.80" fill="#3a7050" fill-opacity="0.5" stroke="#57856a" stroke-width="0.8" stroke-opacity="0.85"/>
<circle cx="23.9" cy="55.3" r="1.44" fill="#3c9a5a" fill-opacity="0.5" stroke="#59a972" stroke-width="0.8" stroke-opacity="0.85"/>
<circle cx="2.7" cy="60.4" r="1.60" fill="#3a7050" fill-opacity="0.5" stroke="#57856a" stroke-width="0.8" stroke-opacity="0.85"/>
<circle cx="59.0" cy="56.7" r="0.96" fill="#4a6470" fill-opacity="0.5" stroke="#657b85" stroke-width="0.8" stroke-opacity="0.85"/>
<circle cx="0.8" cy="50.2" r="0.80" fill="#3c9a5a" fill-opacity="0.5" stroke="#59a972" stroke-width="0.8" stroke-opacity="0.85"/>
</g></g>
<g transform="translate(167.9,379.9)"><rect x="0" y="0" width="74.2" height="64.3" fill="#050506"/>
<g clip-path="url(#ic)" filter="url(#bl)">
<circle cx="49.7" cy="7.5" r="1.83" fill="#28386a" fill-opacity="0.55"/>
<circle cx="46.2" cy="24.2" r="1.77" fill="#28386a" fill-opacity="0.55"/>
<circle cx="70.8" cy="29.4" r="1.96" fill="#2a5040" fill-opacity="0.55"/>
<circle cx="70.1" cy="27.4" r="1.50" fill="#28386a" fill-opacity="0.55"/>
<circle cx="8.4" cy="6.5" r="1.60" fill="#303a70" fill-opacity="0.55"/>
<circle cx="47.4" cy="27.9" r="1.81" fill="#303a70" fill-opacity="0.55"/>
<circle cx="46.7" cy="36.4" r="1.42" fill="#2a4a5a" fill-opacity="0.55"/>
<circle cx="23.0" cy="4.8" r="1.76" fill="#4a9a98" fill-opacity="0.5" stroke="#65a9a7" stroke-width="0.8" stroke-opacity="0.85"/>
<circle cx="34.0" cy="4.8" r="1.76" fill="#3a4a98" fill-opacity="0.5" stroke="#5765a7" stroke-width="0.8" stroke-opacity="0.85"/>
<circle cx="38.5" cy="4.8" r="1.14" fill="#d8d060" fill-opacity="0.75"/>
<circle cx="38.5" cy="4.8" r="0.60" fill="#e5e097" fill-opacity="0.7"/>
<circle cx="43.6" cy="3.4" r="1.28" fill="#3c9a5a" fill-opacity="0.5" stroke="#59a972" stroke-width="0.8" stroke-opacity="0.85"/>
<circle cx="48.0" cy="5.6" r="1.60" fill="#4a6470" fill-opacity="0.5" stroke="#657b85" stroke-width="0.8" stroke-opacity="0.85"/>
<circle cx="18.0" cy="13.6" r="1.76" fill="#4a9a98" fill-opacity="0.5" stroke="#65a9a7" stroke-width="0.8" stroke-opacity="0.85"/>
<circle cx="23.0" cy="18.7" r="1.23" fill="#e09040" fill-opacity="0.75"/>
<circle cx="23.0" cy="18.7" r="0.65" fill="#eab682" fill-opacity="0.7"/>
<circle cx="29.0" cy="21.0" r="2.08" fill="#4a9a98" fill-opacity="0.5" stroke="#65a9a7" stroke-width="0.8" stroke-opacity="0.85"/>
<circle cx="63.0" cy="22.0" r="1.92" fill="#3a4a98" fill-opacity="0.5" stroke="#5765a7" stroke-width="0.8" stroke-opacity="0.85"/>
<circle cx="28.2" cy="32.9" r="1.52" fill="#f0f0a0" fill-opacity="0.75"/>
<circle cx="28.2" cy="32.9" r="0.80" fill="#f5f5c1" fill-opacity="0.7"/>
<circle cx="30.4" cy="31.5" r="1.33" fill="#d8d060" fill-opacity="0.75"/>
<circle cx="30.4" cy="31.5" r="0.70" fill="#e5e097" fill-opacity="0.7"/>
<circle cx="35.5" cy="34.4" r="1.92" fill="#70c0c0" fill-opacity="0.5" stroke="#85c9c9" stroke-width="0.8" stroke-opacity="0.85"/>
<circle cx="28.2" cy="42.0" r="1.33" fill="#d8d060" fill-opacity="0.75"/>
<circle cx="28.2" cy="42.0" r="0.70" fill="#e5e097" fill-opacity="0.7"/>
<circle cx="16.5" cy="45.5" r="1.33" fill="#d8d060" fill-opacity="0.75"/>
<circle cx="16.5" cy="45.5" r="0.70" fill="#e5e097" fill-opacity="0.7"/>
<circle cx="13.6" cy="48.7" r="1.60" fill="#4a9a98" fill-opacity="0.5" stroke="#65a9a7" stroke-width="0.8" stroke-opacity="0.85"/>
<circle cx="26.0" cy="49.4" r="1.92" fill="#4a9a98" fill-opacity="0.5" stroke="#65a9a7" stroke-width="0.8" stroke-opacity="0.85"/>
<circle cx="50.0" cy="41.4" r="1.76" fill="#4a6470" fill-opacity="0.5" stroke="#657b85" stroke-width="0.8" stroke-opacity="0.85"/>
<circle cx="59.0" cy="42.9" r="1.92" fill="#4a6470" fill-opacity="0.5" stroke="#657b85" stroke-width="0.8" stroke-opacity="0.85"/>
<circle cx="10.0" cy="54.6" r="1.52" fill="#e09040" fill-opacity="0.75"/>
<circle cx="10.0" cy="54.6" r="0.80" fill="#eab682" fill-opacity="0.7"/>
<circle cx="12.5" cy="56.0" r="1.76" fill="#3c9a5a" fill-opacity="0.5" stroke="#59a972" stroke-width="0.8" stroke-opacity="0.85"/>
<circle cx="52.4" cy="56.0" r="1.60" fill="#4a6470" fill-opacity="0.5" stroke="#657b85" stroke-width="0.8" stroke-opacity="0.85"/>
<circle cx="28.2" cy="59.7" r="1.92" fill="#3a4a98" fill-opacity="0.5" stroke="#5765a7" stroke-width="0.8" stroke-opacity="0.85"/>
</g></g>
<g transform="translate(245.1,379.9)"><rect x="0" y="0" width="74.2" height="64.3" fill="#050506"/>
<g clip-path="url(#ic)" filter="url(#bl)">
<circle cx="66.0" cy="10.2" r="1.79" fill="#2a5040" fill-opacity="0.55"/>
<circle cx="64.3" cy="31.3" r="1.55" fill="#303a70" fill-opacity="0.55"/>
<circle cx="42.4" cy="24.9" r="2.04" fill="#2a4a5a" fill-opacity="0.55"/>
<circle cx="52.7" cy="5.4" r="2.09" fill="#2a5040" fill-opacity="0.55"/>
<circle cx="43.8" cy="34.5" r="1.76" fill="#2a5040" fill-opacity="0.55"/>
<circle cx="21.1" cy="10.5" r="2.10" fill="#303a70" fill-opacity="0.55"/>
<circle cx="68.2" cy="61.1" r="1.81" fill="#28386a" fill-opacity="0.55"/>
<circle cx="2.0" cy="2.6" r="1.60" fill="#c84070" fill-opacity="0.5" stroke="#d05c85" stroke-width="0.8" stroke-opacity="0.85"/>
<circle cx="11.0" cy="5.8" r="1.92" fill="#4a9a98" fill-opacity="0.5" stroke="#65a9a7" stroke-width="0.8" stroke-opacity="0.85"/>
<circle cx="10.0" cy="9.5" r="1.60" fill="#4a9a98" fill-opacity="0.5" stroke="#65a9a7" stroke-width="0.8" stroke-opacity="0.85"/>
<circle cx="17.5" cy="8.0" r="2.08" fill="#3a4a98" fill-opacity="0.5" stroke="#5765a7" stroke-width="0.8" stroke-opacity="0.85"/>
<circle cx="21.0" cy="7.3" r="1.44" fill="#3c9a5a" fill-opacity="0.5" stroke="#59a972" stroke-width="0.8" stroke-opacity="0.85"/>
<circle cx="20.5" cy="11.7" r="1.76" fill="#5060b0" fill-opacity="0.5" stroke="#6a77bb" stroke-width="0.8" stroke-opacity="0.85"/>
<circle cx="18.0" cy="13.9" r="1.52" fill="#d8d060" fill-opacity="0.75"/>
<circle cx="18.0" cy="13.9" r="0.80" fill="#e5e097" fill-opacity="0.7"/>
<circle cx="19.7" cy="16.0" r="1.60" fill="#4a9a98" fill-opacity="0.5" stroke="#65a9a7" stroke-width="0.8" stroke-opacity="0.85"/>
<circle cx="33.6" cy="9.5" r="1.44" fill="#3c9a5a" fill-opacity="0.5" stroke="#59a972" stroke-width="0.8" stroke-opacity="0.85"/>
<circle cx="37.3" cy="13.0" r="1.44" fill="#3c9a5a" fill-opacity="0.5" stroke="#59a972" stroke-width="0.8" stroke-opacity="0.85"/>
<circle cx="42.4" cy="3.0" r="1.76" fill="#3a4a98" fill-opacity="0.5" stroke="#5765a7" stroke-width="0.8" stroke-opacity="0.85"/>
<circle cx="46.0" cy="3.7" r="1.12" fill="#3c9a5a" fill-opacity="0.5" stroke="#59a972" stroke-width="0.8" stroke-opacity="0.85"/>
<circle cx="71.6" cy="4.4" r="2.28" fill="#d0203c" fill-opacity="0.75"/>
<circle cx="71.6" cy="4.4" r="1.20" fill="#e06e80" fill-opacity="0.7"/>
<circle cx="68.7" cy="11.0" r="1.76" fill="#4a9a98" fill-opacity="0.5" stroke="#65a9a7" stroke-width="0.8" stroke-opacity="0.85"/>
<circle cx="24.8" cy="21.2" r="3.42" fill="#d0203c" fill-opacity="0.75"/>
<circle cx="24.8" cy="21.2" r="1.80" fill="#e06e80" fill-opacity="0.7"/>
<circle cx="29.2" cy="20.5" r="1.71" fill="#e09040" fill-opacity="0.75"/>
<circle cx="29.2" cy="20.5" r="0.90" fill="#eab682" fill-opacity="0.7"/>
<circle cx="31.4" cy="19.3" r="1.52" fill="#d8d060" fill-opacity="0.75"/>
<circle cx="31.4" cy="19.3" r="0.80" fill="#e5e097" fill-opacity="0.7"/>
<circle cx="34.4" cy="20.5" r="1.44" fill="#3c9a5a" fill-opacity="0.5" stroke="#59a972" stroke-width="0.8" stroke-opacity="0.85"/>
<circle cx="5.0" cy="27.0" r="1.76" fill="#4a9a98" fill-opacity="0.5" stroke="#65a9a7" stroke-width="0.8" stroke-opacity="0.85"/>
<circle cx="5.8" cy="30.7" r="1.60" fill="#3c9a5a" fill-opacity="0.5" stroke="#59a972" stroke-width="0.8" stroke-opacity="0.85"/>
<circle cx="69.9" cy="26.6" r="1.14" fill="#d0e0d0" fill-opacity="0.75"/>
<circle cx="69.9" cy="26.6" r="0.60" fill="#e0eae0" fill-opacity="0.7"/>
<circle cx="49.7" cy="24.8" r="1.76" fill="#4a6470" fill-opacity="0.5" stroke="#657b85" stroke-width="0.8" stroke-opacity="0.85"/>
<circle cx="51.2" cy="33.3" r="1.76" fill="#6a8890" fill-opacity="0.5" stroke="#8099a0" stroke-width="0.8" stroke-opacity="0.85"/>
<circle cx="41.7" cy="40.2" r="1.92" fill="#3a4a98" fill-opacity="0.5" stroke="#5765a7" stroke-width="0.8" stroke-opacity="0.85"/>
<circle cx="49.0" cy="38.7" r="1.60" fill="#4a9a98" fill-opacity="0.5" stroke="#65a9a7" stroke-width="0.8" stroke-opacity="0.85"/>
<circle cx="45.3" cy="43.1" r="0.96" fill="#3c9a5a" fill-opacity="0.5" stroke="#59a972" stroke-width="0.8" stroke-opacity="0.85"/>
<circle cx="47.5" cy="46.8" r="1.92" fill="#3a4a98" fill-opacity="0.5" stroke="#5765a7" stroke-width="0.8" stroke-opacity="0.85"/>
<circle cx="14.6" cy="43.1" r="1.76" fill="#3a4a98" fill-opacity="0.5" stroke="#5765a7" stroke-width="0.8" stroke-opacity="0.85"/>
<circle cx="20.5" cy="41.7" r="1.60" fill="#3a7050" fill-opacity="0.5" stroke="#57856a" stroke-width="0.8" stroke-opacity="0.85"/>
<circle cx="16.0" cy="47.5" r="2.66" fill="#d0203c" fill-opacity="0.75"/>
<circle cx="16.0" cy="47.5" r="1.40" fill="#e06e80" fill-opacity="0.7"/>
<circle cx="23.4" cy="51.5" r="1.44" fill="#3c9a5a" fill-opacity="0.5" stroke="#59a972" stroke-width="0.8" stroke-opacity="0.85"/>
<circle cx="4.4" cy="49.7" r="1.44" fill="#3a7050" fill-opacity="0.5" stroke="#57856a" stroke-width="0.8" stroke-opacity="0.85"/>
<circle cx="46.8" cy="54.8" r="1.92" fill="#4a9a98" fill-opacity="0.5" stroke="#65a9a7" stroke-width="0.8" stroke-opacity="0.85"/>
<circle cx="53.4" cy="52.9" r="1.60" fill="#3c9a5a" fill-opacity="0.5" stroke="#59a972" stroke-width="0.8" stroke-opacity="0.85"/>
<circle cx="58.5" cy="53.4" r="1.76" fill="#3a4a98" fill-opacity="0.5" stroke="#5765a7" stroke-width="0.8" stroke-opacity="0.85"/>
<circle cx="60.0" cy="59.2" r="1.92" fill="#3a4a98" fill-opacity="0.5" stroke="#5765a7" stroke-width="0.8" stroke-opacity="0.85"/>
<circle cx="47.5" cy="60.0" r="1.14" fill="#d0e0d0" fill-opacity="0.75"/>
<circle cx="47.5" cy="60.0" r="0.60" fill="#e0eae0" fill-opacity="0.7"/>
<circle cx="4.4" cy="62.0" r="1.28" fill="#4a6470" fill-opacity="0.5" stroke="#657b85" stroke-width="0.8" stroke-opacity="0.85"/>
<circle cx="57.0" cy="3.5" r="1.12" fill="#3a4a98" fill-opacity="0.5" stroke="#5765a7" stroke-width="0.8" stroke-opacity="0.85"/>
</g></g>
<g transform="translate(322.8,379.9)"><rect x="0" y="0" width="74.2" height="64.3" fill="#050506"/>
<g clip-path="url(#ic)" filter="url(#bl)">
<circle cx="24.7" cy="39.2" r="1.41" fill="#2a4a5a" fill-opacity="0.55"/>
<circle cx="59.6" cy="61.9" r="1.58" fill="#2a4a5a" fill-opacity="0.55"/>
<circle cx="37.9" cy="37.7" r="1.75" fill="#303a70" fill-opacity="0.55"/>
<circle cx="67.2" cy="29.4" r="1.49" fill="#2a4a5a" fill-opacity="0.55"/>
<circle cx="4.6" cy="38.4" r="1.67" fill="#2a4a5a" fill-opacity="0.55"/>
<circle cx="69.6" cy="21.3" r="1.98" fill="#2a5040" fill-opacity="0.55"/>
<circle cx="68.2" cy="60.8" r="1.86" fill="#2a4a5a" fill-opacity="0.55"/>
<circle cx="7.3" cy="22.7" r="1.44" fill="#3c9a5a" fill-opacity="0.5" stroke="#59a972" stroke-width="0.8" stroke-opacity="0.85"/>
<circle cx="19.0" cy="29.2" r="2.56" fill="#3c9a5a" fill-opacity="0.5" stroke="#59a972" stroke-width="0.8" stroke-opacity="0.85"/>
<circle cx="13.0" cy="32.0" r="1.12" fill="#c84070" fill-opacity="0.5" stroke="#d05c85" stroke-width="0.8" stroke-opacity="0.85"/>
<circle cx="22.7" cy="34.0" r="1.23" fill="#d8d060" fill-opacity="0.75"/>
<circle cx="22.7" cy="34.0" r="0.65" fill="#e5e097" fill-opacity="0.7"/>
<circle cx="30.7" cy="14.6" r="1.60" fill="#3c9a5a" fill-opacity="0.5" stroke="#59a972" stroke-width="0.8" stroke-opacity="0.85"/>
<circle cx="34.4" cy="14.6" r="1.28" fill="#3c9a5a" fill-opacity="0.5" stroke="#59a972" stroke-width="0.8" stroke-opacity="0.85"/>
<circle cx="31.4" cy="19.7" r="1.92" fill="#3a4a98" fill-opacity="0.5" stroke="#5765a7" stroke-width="0.8" stroke-opacity="0.85"/>
<circle cx="28.5" cy="24.0" r="1.76" fill="#4a6470" fill-opacity="0.5" stroke="#657b85" stroke-width="0.8" stroke-opacity="0.85"/>
<circle cx="35.8" cy="22.7" r="1.60" fill="#c84070" fill-opacity="0.5" stroke="#d05c85" stroke-width="0.8" stroke-opacity="0.85"/>
<circle cx="33.6" cy="26.3" r="1.60" fill="#4a9a98" fill-opacity="0.5" stroke="#65a9a7" stroke-width="0.8" stroke-opacity="0.85"/>
<circle cx="34.4" cy="30.0" r="1.44" fill="#3a7050" fill-opacity="0.5" stroke="#57856a" stroke-width="0.8" stroke-opacity="0.85"/>
<circle cx="39.5" cy="19.0" r="1.52" fill="#d8d060" fill-opacity="0.75"/>
<circle cx="39.5" cy="19.0" r="0.80" fill="#e5e097" fill-opacity="0.7"/>
<circle cx="44.6" cy="19.0" r="1.60" fill="#3c9a5a" fill-opacity="0.5" stroke="#59a972" stroke-width="0.8" stroke-opacity="0.85"/>
<circle cx="47.5" cy="11.0" r="1.76" fill="#4a6470" fill-opacity="0.5" stroke="#657b85" stroke-width="0.8" stroke-opacity="0.85"/>
<circle cx="49.0" cy="16.0" r="0.95" fill="#d8d060" fill-opacity="0.75"/>
<circle cx="49.0" cy="16.0" r="0.50" fill="#e5e097" fill-opacity="0.7"/>
<circle cx="57.7" cy="13.9" r="2.08" fill="#3a4a98" fill-opacity="0.5" stroke="#5765a7" stroke-width="0.8" stroke-opacity="0.85"/>
<circle cx="62.0" cy="17.5" r="1.92" fill="#4a6470" fill-opacity="0.5" stroke="#657b85" stroke-width="0.8" stroke-opacity="0.85"/>
<circle cx="65.8" cy="24.0" r="1.76" fill="#4a6470" fill-opacity="0.5" stroke="#657b85" stroke-width="0.8" stroke-opacity="0.85"/>
<circle cx="70.0" cy="23.4" r="1.60" fill="#4a6470" fill-opacity="0.5" stroke="#657b85" stroke-width="0.8" stroke-opacity="0.85"/>
<circle cx="73.0" cy="28.5" r="1.60" fill="#4a6470" fill-opacity="0.5" stroke="#657b85" stroke-width="0.8" stroke-opacity="0.85"/>
<circle cx="51.2" cy="37.7" r="1.71" fill="#d8d060" fill-opacity="0.75"/>
<circle cx="51.2" cy="37.7" r="0.90" fill="#e5e097" fill-opacity="0.7"/>
<circle cx="73.0" cy="38.7" r="1.60" fill="#4a9a98" fill-opacity="0.5" stroke="#65a9a7" stroke-width="0.8" stroke-opacity="0.85"/>
<circle cx="38.0" cy="49.7" r="2.08" fill="#5a3a90" fill-opacity="0.5" stroke="#7257a0" stroke-width="0.8" stroke-opacity="0.85"/>
<circle cx="41.7" cy="47.5" r="1.44" fill="#c84070" fill-opacity="0.5" stroke="#d05c85" stroke-width="0.8" stroke-opacity="0.85"/>
<circle cx="60.7" cy="51.2" r="2.28" fill="#f02848" fill-opacity="0.75"/>
<circle cx="60.7" cy="51.2" r="1.20" fill="#f57388" fill-opacity="0.7"/>
<circle cx="51.9" cy="60.0" r="1.60" fill="#3a7050" fill-opacity="0.5" stroke="#57856a" stroke-width="0.8" stroke-opacity="0.85"/>
<circle cx="69.4" cy="59.2" r="1.76" fill="#4a6470" fill-opacity="0.5" stroke="#657b85" stroke-width="0.8" stroke-opacity="0.85"/>
</g></g>
<g transform="translate(90.9,447.4)"><rect x="0" y="0" width="74.2" height="64.3" fill="#050506"/>
<g clip-path="url(#ic)" filter="url(#bl)">
<circle cx="29.8" cy="13.4" r="2.03" fill="#28386a" fill-opacity="0.55"/>
<circle cx="38.9" cy="43.8" r="2.00" fill="#2a5040" fill-opacity="0.55"/>
<circle cx="11.5" cy="61.5" r="1.49" fill="#2a4a5a" fill-opacity="0.55"/>
<circle cx="44.1" cy="28.5" r="1.63" fill="#2a5040" fill-opacity="0.55"/>
<circle cx="11.8" cy="11.8" r="1.73" fill="#303a70" fill-opacity="0.55"/>
<circle cx="6.2" cy="56.2" r="1.57" fill="#2a4a5a" fill-opacity="0.55"/>
<circle cx="17.4" cy="57.2" r="2.09" fill="#2a5040" fill-opacity="0.55"/>
<circle cx="36.5" cy="4.4" r="1.44" fill="#3c9a5a" fill-opacity="0.5" stroke="#59a972" stroke-width="0.8" stroke-opacity="0.85"/>
<circle cx="43.9" cy="2.9" r="0.95" fill="#d8d060" fill-opacity="0.75"/>
<circle cx="43.9" cy="2.9" r="0.50" fill="#e5e097" fill-opacity="0.7"/>
<circle cx="46.0" cy="6.6" r="1.76" fill="#3c9a5a" fill-opacity="0.5" stroke="#59a972" stroke-width="0.8" stroke-opacity="0.85"/>
<circle cx="50.4" cy="6.6" r="1.44" fill="#3c9a5a" fill-opacity="0.5" stroke="#59a972" stroke-width="0.8" stroke-opacity="0.85"/>
<circle cx="54.0" cy="6.6" r="1.44" fill="#3c9a5a" fill-opacity="0.5" stroke="#59a972" stroke-width="0.8" stroke-opacity="0.85"/>
<circle cx="46.8" cy="10.2" r="1.44" fill="#3c9a5a" fill-opacity="0.5" stroke="#59a972" stroke-width="0.8" stroke-opacity="0.85"/>
<circle cx="16.8" cy="16.8" r="1.52" fill="#d0e0d0" fill-opacity="0.75"/>
<circle cx="16.8" cy="16.8" r="0.80" fill="#e0eae0" fill-opacity="0.7"/>
<circle cx="56.3" cy="16.0" r="1.92" fill="#4a9a98" fill-opacity="0.5" stroke="#65a9a7" stroke-width="0.8" stroke-opacity="0.85"/>
<circle cx="42.4" cy="17.5" r="1.92" fill="#3a4a98" fill-opacity="0.5" stroke="#5765a7" stroke-width="0.8" stroke-opacity="0.85"/>
<circle cx="46.8" cy="20.5" r="1.92" fill="#5060b0" fill-opacity="0.5" stroke="#6a77bb" stroke-width="0.8" stroke-opacity="0.85"/>
<circle cx="40.2" cy="22.0" r="1.33" fill="#d8d060" fill-opacity="0.75"/>
<circle cx="40.2" cy="22.0" r="0.70" fill="#e5e097" fill-opacity="0.7"/>
<circle cx="7.3" cy="25.6" r="1.60" fill="#3c9a5a" fill-opacity="0.5" stroke="#59a972" stroke-width="0.8" stroke-opacity="0.85"/>
<circle cx="8.0" cy="29.2" r="1.44" fill="#3c9a5a" fill-opacity="0.5" stroke="#59a972" stroke-width="0.8" stroke-opacity="0.85"/>
<circle cx="23.4" cy="27.0" r="1.76" fill="#4cc06a" fill-opacity="0.5" stroke="#66c980" stroke-width="0.8" stroke-opacity="0.85"/>
<circle cx="27.8" cy="25.6" r="1.76" fill="#4cc06a" fill-opacity="0.5" stroke="#66c980" stroke-width="0.8" stroke-opacity="0.85"/>
<circle cx="30.7" cy="27.0" r="1.60" fill="#3c9a5a" fill-opacity="0.5" stroke="#59a972" stroke-width="0.8" stroke-opacity="0.85"/>
<circle cx="34.4" cy="28.5" r="2.09" fill="#f02848" fill-opacity="0.75"/>
<circle cx="34.4" cy="28.5" r="1.10" fill="#f57388" fill-opacity="0.7"/>
<circle cx="23.4" cy="30.7" r="1.33" fill="#e09040" fill-opacity="0.75"/>
<circle cx="23.4" cy="30.7" r="0.70" fill="#eab682" fill-opacity="0.7"/>
<circle cx="19.0" cy="35.0" r="1.76" fill="#3c9a5a" fill-opacity="0.5" stroke="#59a972" stroke-width="0.8" stroke-opacity="0.85"/>
<circle cx="24.0" cy="35.8" r="1.44" fill="#4a9a98" fill-opacity="0.5" stroke="#65a9a7" stroke-width="0.8" stroke-opacity="0.85"/>
<circle cx="26.3" cy="33.6" r="1.44" fill="#3c9a5a" fill-opacity="0.5" stroke="#59a972" stroke-width="0.8" stroke-opacity="0.85"/>
<circle cx="41.0" cy="31.4" r="1.60" fill="#4a9a98" fill-opacity="0.5" stroke="#65a9a7" stroke-width="0.8" stroke-opacity="0.85"/>
<circle cx="35.0" cy="38.7" r="1.76" fill="#4a9a98" fill-opacity="0.5" stroke="#65a9a7" stroke-width="0.8" stroke-opacity="0.85"/>
<circle cx="48.2" cy="34.4" r="1.60" fill="#4a6470" fill-opacity="0.5" stroke="#657b85" stroke-width="0.8" stroke-opacity="0.85"/>
<circle cx="58.5" cy="34.4" r="1.92" fill="#3a4a98" fill-opacity="0.5" stroke="#5765a7" stroke-width="0.8" stroke-opacity="0.85"/>
<circle cx="64.3" cy="39.5" r="1.76" fill="#3a4a98" fill-opacity="0.5" stroke="#5765a7" stroke-width="0.8" stroke-opacity="0.85"/>
<circle cx="66.5" cy="46.0" r="1.14" fill="#d8d060" fill-opacity="0.75"/>
<circle cx="66.5" cy="46.0" r="0.60" fill="#e5e097" fill-opacity="0.7"/>
<circle cx="71.6" cy="49.7" r="1.76" fill="#3a4a98" fill-opacity="0.5" stroke="#5765a7" stroke-width="0.8" stroke-opacity="0.85"/>
<circle cx="14.6" cy="38.7" r="1.12" fill="#4a6470" fill-opacity="0.5" stroke="#657b85" stroke-width="0.8" stroke-opacity="0.85"/>
<circle cx="20.5" cy="43.1" r="1.12" fill="#3a7050" fill-opacity="0.5" stroke="#57856a" stroke-width="0.8" stroke-opacity="0.85"/>
<circle cx="2.9" cy="34.4" r="0.96" fill="#3a7050" fill-opacity="0.5" stroke="#57856a" stroke-width="0.8" stroke-opacity="0.85"/>
<circle cx="27.8" cy="61.4" r="1.92" fill="#4a6470" fill-opacity="0.5" stroke="#657b85" stroke-width="0.8" stroke-opacity="0.85"/>
</g></g>
<g transform="translate(167.9,447.4)"><rect x="0" y="0" width="74.2" height="64.3" fill="#050506"/>
<g clip-path="url(#ic)" filter="url(#bl)">
<circle cx="63.5" cy="22.9" r="1.95" fill="#28386a" fill-opacity="0.55"/>
<circle cx="23.9" cy="48.1" r="1.63" fill="#2a4a5a" fill-opacity="0.55"/>
<circle cx="61.5" cy="11.9" r="2.02" fill="#28386a" fill-opacity="0.55"/>
<circle cx="48.1" cy="23.1" r="1.52" fill="#2a5040" fill-opacity="0.55"/>
<circle cx="45.1" cy="51.8" r="1.75" fill="#2a4a5a" fill-opacity="0.55"/>
<circle cx="51.5" cy="13.0" r="1.62" fill="#303a70" fill-opacity="0.55"/>
<circle cx="6.3" cy="21.6" r="1.98" fill="#28386a" fill-opacity="0.55"/>
<circle cx="37.3" cy="2.2" r="1.12" fill="#3a4a98" fill-opacity="0.5" stroke="#5765a7" stroke-width="0.8" stroke-opacity="0.85"/>
<circle cx="62.9" cy="4.4" r="1.12" fill="#c84070" fill-opacity="0.5" stroke="#d05c85" stroke-width="0.8" stroke-opacity="0.85"/>
<circle cx="12.4" cy="22.0" r="1.60" fill="#4a6470" fill-opacity="0.5" stroke="#657b85" stroke-width="0.8" stroke-opacity="0.85"/>
<circle cx="39.5" cy="24.0" r="1.60" fill="#3a7050" fill-opacity="0.5" stroke="#57856a" stroke-width="0.8" stroke-opacity="0.85"/>
<circle cx="15.4" cy="30.7" r="1.76" fill="#3c9a5a" fill-opacity="0.5" stroke="#59a972" stroke-width="0.8" stroke-opacity="0.85"/>
<circle cx="19.7" cy="32.9" r="1.60" fill="#3c9a5a" fill-opacity="0.5" stroke="#59a972" stroke-width="0.8" stroke-opacity="0.85"/>
<circle cx="25.6" cy="34.4" r="1.60" fill="#3c9a5a" fill-opacity="0.5" stroke="#59a972" stroke-width="0.8" stroke-opacity="0.85"/>
<circle cx="9.5" cy="39.8" r="1.28" fill="#3a7050" fill-opacity="0.5" stroke="#57856a" stroke-width="0.8" stroke-opacity="0.85"/>
<circle cx="61.4" cy="29.2" r="2.47" fill="#f02848" fill-opacity="0.75"/>
<circle cx="61.4" cy="29.2" r="1.30" fill="#f57388" fill-opacity="0.7"/>
<circle cx="68.0" cy="26.3" r="1.33" fill="#d8d060" fill-opacity="0.75"/>
<circle cx="68.0" cy="26.3" r="0.70" fill="#e5e097" fill-opacity="0.7"/>
<circle cx="70.2" cy="28.5" r="2.09" fill="#f02848" fill-opacity="0.75"/>
<circle cx="70.2" cy="28.5" r="1.10" fill="#f57388" fill-opacity="0.7"/>
<circle cx="39.5" cy="37.3" r="1.60" fill="#5060b0" fill-opacity="0.5" stroke="#6a77bb" stroke-width="0.8" stroke-opacity="0.85"/>
<circle cx="42.4" cy="35.8" r="1.28" fill="#4a9a98" fill-opacity="0.5" stroke="#65a9a7" stroke-width="0.8" stroke-opacity="0.85"/>
<circle cx="44.6" cy="38.7" r="1.52" fill="#f0f0a0" fill-opacity="0.75"/>
<circle cx="44.6" cy="38.7" r="0.80" fill="#f5f5c1" fill-opacity="0.7"/>
<circle cx="49.0" cy="33.6" r="1.28" fill="#4a6470" fill-opacity="0.5" stroke="#657b85" stroke-width="0.8" stroke-opacity="0.85"/>
<circle cx="26.3" cy="43.9" r="1.90" fill="#e09040" fill-opacity="0.75"/>
<circle cx="26.3" cy="43.9" r="1.00" fill="#eab682" fill-opacity="0.7"/>
<circle cx="19.7" cy="47.5" r="2.40" fill="#5060b0" fill-opacity="0.5" stroke="#6a77bb" stroke-width="0.8" stroke-opacity="0.85"/>
<circle cx="48.2" cy="49.0" r="1.76" fill="#70c0c0" fill-opacity="0.5" stroke="#85c9c9" stroke-width="0.8" stroke-opacity="0.85"/>
<circle cx="55.6" cy="46.8" r="1.44" fill="#3c9a5a" fill-opacity="0.5" stroke="#59a972" stroke-width="0.8" stroke-opacity="0.85"/>
<circle cx="51.9" cy="51.2" r="1.60" fill="#3c9a5a" fill-opacity="0.5" stroke="#59a972" stroke-width="0.8" stroke-opacity="0.85"/>
<circle cx="44.6" cy="51.9" r="2.09" fill="#f02848" fill-opacity="0.75"/>
<circle cx="44.6" cy="51.9" r="1.10" fill="#f57388" fill-opacity="0.7"/>
<circle cx="58.5" cy="51.2" r="1.12" fill="#3a4a98" fill-opacity="0.5" stroke="#5765a7" stroke-width="0.8" stroke-opacity="0.85"/>
<circle cx="42.4" cy="55.6" r="1.44" fill="#3c9a5a" fill-opacity="0.5" stroke="#59a972" stroke-width="0.8" stroke-opacity="0.85"/>
<circle cx="27.8" cy="57.0" r="1.28" fill="#3c9a5a" fill-opacity="0.5" stroke="#59a972" stroke-width="0.8" stroke-opacity="0.85"/>
<circle cx="32.2" cy="57.7" r="1.76" fill="#3c9a5a" fill-opacity="0.5" stroke="#59a972" stroke-width="0.8" stroke-opacity="0.85"/>
<circle cx="49.0" cy="62.9" r="2.09" fill="#f02848" fill-opacity="0.75"/>
<circle cx="49.0" cy="62.9" r="1.10" fill="#f57388" fill-opacity="0.7"/>
<circle cx="70.9" cy="57.7" r="1.44" fill="#3a7050" fill-opacity="0.5" stroke="#57856a" stroke-width="0.8" stroke-opacity="0.85"/>
</g></g>
<g transform="translate(245.1,447.4)"><rect x="0" y="0" width="74.2" height="64.3" fill="#050506"/>
<g clip-path="url(#ic)" filter="url(#bl)">
<circle cx="37.7" cy="37.8" r="1.61" fill="#28386a" fill-opacity="0.55"/>
<circle cx="53.1" cy="47.7" r="1.72" fill="#2a4a5a" fill-opacity="0.55"/>
<circle cx="9.4" cy="29.0" r="2.08" fill="#2a5040" fill-opacity="0.55"/>
<circle cx="28.5" cy="39.7" r="1.50" fill="#303a70" fill-opacity="0.55"/>
<circle cx="21.6" cy="50.3" r="1.45" fill="#28386a" fill-opacity="0.55"/>
<circle cx="38.5" cy="29.1" r="1.46" fill="#2a5040" fill-opacity="0.55"/>
<circle cx="65.4" cy="24.2" r="2.05" fill="#28386a" fill-opacity="0.55"/>
<circle cx="11.0" cy="4.4" r="1.71" fill="#d0203c" fill-opacity="0.75"/>
<circle cx="11.0" cy="4.4" r="0.90" fill="#e06e80" fill-opacity="0.7"/>
<circle cx="31.4" cy="8.0" r="1.76" fill="#4a9a98" fill-opacity="0.5" stroke="#65a9a7" stroke-width="0.8" stroke-opacity="0.85"/>
<circle cx="43.9" cy="2.9" r="1.71" fill="#d0203c" fill-opacity="0.75"/>
<circle cx="43.9" cy="2.9" r="0.90" fill="#e06e80" fill-opacity="0.7"/>
<circle cx="48.2" cy="8.0" r="2.09" fill="#e09040" fill-opacity="0.75"/>
<circle cx="48.2" cy="8.0" r="1.10" fill="#eab682" fill-opacity="0.7"/>
<circle cx="57.0" cy="3.7" r="1.60" fill="#4a9a98" fill-opacity="0.5" stroke="#65a9a7" stroke-width="0.8" stroke-opacity="0.85"/>
<circle cx="57.7" cy="8.8" r="1.76" fill="#4a9a98" fill-opacity="0.5" stroke="#65a9a7" stroke-width="0.8" stroke-opacity="0.85"/>
<circle cx="61.4" cy="8.8" r="1.76" fill="#5a3a90" fill-opacity="0.5" stroke="#7257a0" stroke-width="0.8" stroke-opacity="0.85"/>
<circle cx="68.0" cy="6.6" r="2.85" fill="#f02848" fill-opacity="0.75"/>
<circle cx="68.0" cy="6.6" r="1.50" fill="#f57388" fill-opacity="0.7"/>
<circle cx="43.9" cy="11.7" r="1.60" fill="#4a9a98" fill-opacity="0.5" stroke="#65a9a7" stroke-width="0.8" stroke-opacity="0.85"/>
<circle cx="44.6" cy="16.0" r="1.90" fill="#e09040" fill-opacity="0.75"/>
<circle cx="44.6" cy="16.0" r="1.00" fill="#eab682" fill-opacity="0.7"/>
<circle cx="32.9" cy="15.4" r="1.76" fill="#c84070" fill-opacity="0.5" stroke="#d05c85" stroke-width="0.8" stroke-opacity="0.85"/>
<circle cx="26.3" cy="13.9" r="1.76" fill="#4a9a98" fill-opacity="0.5" stroke="#65a9a7" stroke-width="0.8" stroke-opacity="0.85"/>
<circle cx="25.6" cy="18.3" r="1.92" fill="#4a9a98" fill-opacity="0.5" stroke="#65a9a7" stroke-width="0.8" stroke-opacity="0.85"/>
<circle cx="31.4" cy="19.7" r="1.76" fill="#3a4a98" fill-opacity="0.5" stroke="#5765a7" stroke-width="0.8" stroke-opacity="0.85"/>
<circle cx="38.0" cy="19.0" r="1.90" fill="#e09040" fill-opacity="0.75"/>
<circle cx="38.0" cy="19.0" r="1.00" fill="#eab682" fill-opacity="0.7"/>
<circle cx="57.0" cy="19.7" r="1.92" fill="#3a4a98" fill-opacity="0.5" stroke="#5765a7" stroke-width="0.8" stroke-opacity="0.85"/>
<circle cx="2.9" cy="22.0" r="1.76" fill="#4a6470" fill-opacity="0.5" stroke="#657b85" stroke-width="0.8" stroke-opacity="0.85"/>
<circle cx="57.7" cy="26.3" r="1.92" fill="#3c9a5a" fill-opacity="0.5" stroke="#59a972" stroke-width="0.8" stroke-opacity="0.85"/>
<circle cx="56.3" cy="30.7" r="1.92" fill="#4a9a98" fill-opacity="0.5" stroke="#65a9a7" stroke-width="0.8" stroke-opacity="0.85"/>
<circle cx="38.7" cy="30.0" r="2.24" fill="#3a4a98" fill-opacity="0.5" stroke="#5765a7" stroke-width="0.8" stroke-opacity="0.85"/>
<circle cx="29.2" cy="30.7" r="1.92" fill="#3a4a98" fill-opacity="0.5" stroke="#5765a7" stroke-width="0.8" stroke-opacity="0.85"/>
<circle cx="48.2" cy="32.2" r="1.76" fill="#4a9a98" fill-opacity="0.5" stroke="#65a9a7" stroke-width="0.8" stroke-opacity="0.85"/>
<circle cx="51.2" cy="30.7" r="1.76" fill="#3a4a98" fill-opacity="0.5" stroke="#5765a7" stroke-width="0.8" stroke-opacity="0.85"/>
<circle cx="67.3" cy="30.0" r="1.92" fill="#3a4a98" fill-opacity="0.5" stroke="#5765a7" stroke-width="0.8" stroke-opacity="0.85"/>
<circle cx="70.2" cy="34.4" r="1.76" fill="#4a9a98" fill-opacity="0.5" stroke="#65a9a7" stroke-width="0.8" stroke-opacity="0.85"/>
<circle cx="59.2" cy="36.5" r="2.08" fill="#3a4a98" fill-opacity="0.5" stroke="#5765a7" stroke-width="0.8" stroke-opacity="0.85"/>
<circle cx="20.5" cy="37.3" r="3.23" fill="#d0203c" fill-opacity="0.75"/>
<circle cx="20.5" cy="37.3" r="1.70" fill="#e06e80" fill-opacity="0.7"/>
<circle cx="16.0" cy="39.5" r="1.90" fill="#d8d060" fill-opacity="0.75"/>
<circle cx="16.0" cy="39.5" r="1.00" fill="#e5e097" fill-opacity="0.7"/>
<circle cx="25.6" cy="34.4" r="1.60" fill="#3a4a98" fill-opacity="0.5" stroke="#5765a7" stroke-width="0.8" stroke-opacity="0.85"/>
<circle cx="23.4" cy="41.7" r="1.92" fill="#3a7050" fill-opacity="0.5" stroke="#57856a" stroke-width="0.8" stroke-opacity="0.85"/>
<circle cx="35.8" cy="44.6" r="2.08" fill="#4a6470" fill-opacity="0.5" stroke="#657b85" stroke-width="0.8" stroke-opacity="0.85"/>
<circle cx="68.0" cy="43.1" r="2.85" fill="#f02848" fill-opacity="0.75"/>
<circle cx="68.0" cy="43.1" r="1.50" fill="#f57388" fill-opacity="0.7"/>
<circle cx="63.6" cy="43.1" r="1.71" fill="#d8d060" fill-opacity="0.75"/>
<circle cx="63.6" cy="43.1" r="0.90" fill="#e5e097" fill-opacity="0.7"/>
<circle cx="8.8" cy="50.4" r="1.76" fill="#4a9a98" fill-opacity="0.5" stroke="#65a9a7" stroke-width="0.8" stroke-opacity="0.85"/>
<circle cx="60.0" cy="55.3" r="1.60" fill="#4a6470" fill-opacity="0.5" stroke="#657b85" stroke-width="0.8" stroke-opacity="0.85"/>
<circle cx="41.7" cy="56.3" r="1.12" fill="#4a6470" fill-opacity="0.5" stroke="#657b85" stroke-width="0.8" stroke-opacity="0.85"/>
<circle cx="6.6" cy="58.5" r="3.23" fill="#d0203c" fill-opacity="0.75"/>
<circle cx="6.6" cy="58.5" r="1.70" fill="#e06e80" fill-opacity="0.7"/>
<circle cx="11.7" cy="59.2" r="2.47" fill="#f0f0a0" fill-opacity="0.75"/>
<circle cx="11.7" cy="59.2" r="1.30" fill="#f5f5c1" fill-opacity="0.7"/>
<circle cx="10.2" cy="61.4" r="1.44" fill="#3c9a5a" fill-opacity="0.5" stroke="#59a972" stroke-width="0.8" stroke-opacity="0.85"/>
</g></g>
<g transform="translate(322.8,447.4)"><rect x="0" y="0" width="74.2" height="64.3" fill="#050506"/>
<g clip-path="url(#ic)" filter="url(#bl)">
<circle cx="2.1" cy="43.7" r="1.78" fill="#303a70" fill-opacity="0.55"/>
<circle cx="54.4" cy="34.8" r="1.77" fill="#303a70" fill-opacity="0.55"/>
<circle cx="55.1" cy="23.0" r="2.04" fill="#2a4a5a" fill-opacity="0.55"/>
<circle cx="44.5" cy="48.9" r="2.04" fill="#2a4a5a" fill-opacity="0.55"/>
<circle cx="41.5" cy="42.2" r="1.50" fill="#28386a" fill-opacity="0.55"/>
<circle cx="39.0" cy="59.4" r="1.62" fill="#303a70" fill-opacity="0.55"/>
<circle cx="6.4" cy="8.5" r="1.58" fill="#28386a" fill-opacity="0.55"/>
<circle cx="32.9" cy="6.6" r="2.28" fill="#f02848" fill-opacity="0.75"/>
<circle cx="32.9" cy="6.6" r="1.20" fill="#f57388" fill-opacity="0.7"/>
<circle cx="40.2" cy="5.8" r="1.60" fill="#c84070" fill-opacity="0.5" stroke="#d05c85" stroke-width="0.8" stroke-opacity="0.85"/>
<circle cx="38.7" cy="2.9" r="0.80" fill="#3c9a5a" fill-opacity="0.5" stroke="#59a972" stroke-width="0.8" stroke-opacity="0.85"/>
<circle cx="54.0" cy="6.6" r="2.28" fill="#f02848" fill-opacity="0.75"/>
<circle cx="54.0" cy="6.6" r="1.20" fill="#f57388" fill-opacity="0.7"/>
<circle cx="46.0" cy="10.2" r="1.28" fill="#3a7050" fill-opacity="0.5" stroke="#57856a" stroke-width="0.8" stroke-opacity="0.85"/>
<circle cx="11.0" cy="13.9" r="1.76" fill="#4a9a98" fill-opacity="0.5" stroke="#65a9a7" stroke-width="0.8" stroke-opacity="0.85"/>
<circle cx="14.6" cy="15.4" r="1.52" fill="#d8d060" fill-opacity="0.75"/>
<circle cx="14.6" cy="15.4" r="0.80" fill="#e5e097" fill-opacity="0.7"/>
<circle cx="59.2" cy="19.0" r="1.60" fill="#3c9a5a" fill-opacity="0.5" stroke="#59a972" stroke-width="0.8" stroke-opacity="0.85"/>
<circle cx="69.4" cy="23.4" r="1.76" fill="#4a6470" fill-opacity="0.5" stroke="#657b85" stroke-width="0.8" stroke-opacity="0.85"/>
<circle cx="49.0" cy="26.3" r="3.23" fill="#f02848" fill-opacity="0.75"/>
<circle cx="49.0" cy="26.3" r="1.70" fill="#f57388" fill-opacity="0.7"/>
<circle cx="19.0" cy="26.3" r="1.92" fill="#70c0c0" fill-opacity="0.5" stroke="#85c9c9" stroke-width="0.8" stroke-opacity="0.85"/>
<circle cx="26.3" cy="23.4" r="1.44" fill="#3c9a5a" fill-opacity="0.5" stroke="#59a972" stroke-width="0.8" stroke-opacity="0.85"/>
<circle cx="23.4" cy="27.8" r="1.60" fill="#3c9a5a" fill-opacity="0.5" stroke="#59a972" stroke-width="0.8" stroke-opacity="0.85"/>
<circle cx="15.4" cy="28.5" r="1.60" fill="#c84070" fill-opacity="0.5" stroke="#d05c85" stroke-width="0.8" stroke-opacity="0.85"/>
<circle cx="28.5" cy="27.8" r="0.96" fill="#3a4a98" fill-opacity="0.5" stroke="#5765a7" stroke-width="0.8" stroke-opacity="0.85"/>
<circle cx="13.2" cy="32.9" r="1.44" fill="#3a7050" fill-opacity="0.5" stroke="#57856a" stroke-width="0.8" stroke-opacity="0.85"/>
<circle cx="2.9" cy="34.4" r="1.60" fill="#4a9a98" fill-opacity="0.5" stroke="#65a9a7" stroke-width="0.8" stroke-opacity="0.85"/>
<circle cx="41.7" cy="35.0" r="1.12" fill="#4a6470" fill-opacity="0.5" stroke="#657b85" stroke-width="0.8" stroke-opacity="0.85"/>
<circle cx="19.7" cy="39.5" r="2.28" fill="#f02848" fill-opacity="0.75"/>
<circle cx="19.7" cy="39.5" r="1.20" fill="#f57388" fill-opacity="0.7"/>
<circle cx="69.4" cy="39.5" r="1.44" fill="#6a8890" fill-opacity="0.5" stroke="#8099a0" stroke-width="0.8" stroke-opacity="0.85"/>
<circle cx="57.7" cy="43.6" r="0.96" fill="#4a6470" fill-opacity="0.5" stroke="#657b85" stroke-width="0.8" stroke-opacity="0.85"/>
<circle cx="42.4" cy="46.8" r="1.12" fill="#3a7050" fill-opacity="0.5" stroke="#57856a" stroke-width="0.8" stroke-opacity="0.85"/>
<circle cx="15.4" cy="49.7" r="1.76" fill="#3a4a98" fill-opacity="0.5" stroke="#5765a7" stroke-width="0.8" stroke-opacity="0.85"/>
<circle cx="19.0" cy="51.2" r="1.60" fill="#4a9a98" fill-opacity="0.5" stroke="#65a9a7" stroke-width="0.8" stroke-opacity="0.85"/>
<circle cx="23.4" cy="53.4" r="1.28" fill="#4a6470" fill-opacity="0.5" stroke="#657b85" stroke-width="0.8" stroke-opacity="0.85"/>
<circle cx="2.2" cy="53.4" r="1.60" fill="#4a6470" fill-opacity="0.5" stroke="#657b85" stroke-width="0.8" stroke-opacity="0.85"/>
<circle cx="26.3" cy="62.1" r="1.60" fill="#4a6470" fill-opacity="0.5" stroke="#657b85" stroke-width="0.8" stroke-opacity="0.85"/>
<circle cx="43.1" cy="62.9" r="1.76" fill="#4a6470" fill-opacity="0.5" stroke="#657b85" stroke-width="0.8" stroke-opacity="0.85"/>
<circle cx="47.5" cy="60.0" r="1.60" fill="#3a4a98" fill-opacity="0.5" stroke="#5765a7" stroke-width="0.8" stroke-opacity="0.85"/>
<circle cx="52.6" cy="60.7" r="1.60" fill="#4a9a98" fill-opacity="0.5" stroke="#65a9a7" stroke-width="0.8" stroke-opacity="0.85"/>
<circle cx="59.2" cy="61.4" r="2.47" fill="#f02848" fill-opacity="0.75"/>
<circle cx="59.2" cy="61.4" r="1.30" fill="#f57388" fill-opacity="0.7"/>
</g></g>
<text transform="translate(92.40,499.00)" font-size="10.30" text-anchor="start" fill="#3cb454" font-weight="normal" font-style="normal" textLength="17.5" lengthAdjust="spacingAndGlyphs" >MBP</text>
<text transform="translate(92.40,508.00)" font-size="9.63" text-anchor="start" fill="#d83838" font-weight="normal" font-style="normal" textLength="20.2" lengthAdjust="spacingAndGlyphs" >H3Cit</text>
<line x1="92.60" y1="509.80" x2="112.20" y2="509.80" stroke="#f0e0e0" stroke-width="1.0" />
<line x1="104.50" y1="545.40" x2="104.50" y2="647.70" stroke="#2a2a2a" stroke-width="1.1" />
<line x1="101.30" y1="548.30" x2="104.50" y2="548.30" stroke="#2a2a2a" stroke-width="0.9" />
<text transform="translate(98.20,551.10) scale(0.98,1)" font-size="8.96" text-anchor="end" fill="#2a2a2a" font-weight="normal" font-style="normal"  stroke="#2a2a2a" stroke-width="0.2">80</text>
<line x1="101.30" y1="573.15" x2="104.50" y2="573.15" stroke="#2a2a2a" stroke-width="0.9" />
<text transform="translate(98.20,575.95) scale(0.98,1)" font-size="8.96" text-anchor="end" fill="#2a2a2a" font-weight="normal" font-style="normal"  stroke="#2a2a2a" stroke-width="0.2">60</text>
<line x1="101.30" y1="598.00" x2="104.50" y2="598.00" stroke="#2a2a2a" stroke-width="0.9" />
<text transform="translate(98.20,600.80) scale(0.98,1)" font-size="8.96" text-anchor="end" fill="#2a2a2a" font-weight="normal" font-style="normal"  stroke="#2a2a2a" stroke-width="0.2">40</text>
<line x1="101.30" y1="622.85" x2="104.50" y2="622.85" stroke="#2a2a2a" stroke-width="0.9" />
<text transform="translate(98.20,625.65) scale(0.98,1)" font-size="8.96" text-anchor="end" fill="#2a2a2a" font-weight="normal" font-style="normal"  stroke="#2a2a2a" stroke-width="0.2">20</text>
<line x1="101.30" y1="647.70" x2="104.50" y2="647.70" stroke="#2a2a2a" stroke-width="0.9" />
<text transform="translate(98.20,650.50) scale(0.98,1)" font-size="8.96" text-anchor="end" fill="#2a2a2a" font-weight="normal" font-style="normal"  stroke="#2a2a2a" stroke-width="0.2">0</text>
<rect x="112.50" y="644.00" width="8.30" height="3.70" fill="#9fa0aa" />
<rect x="129.80" y="636.00" width="8.60" height="11.70" fill="#9fa0aa" />
<rect x="147.40" y="614.50" width="7.80" height="33.20" fill="#9fa0aa" />
<rect x="171.00" y="620.80" width="8.10" height="26.90" fill="#8e9bc0" />
<rect x="188.00" y="609.80" width="7.70" height="37.90" fill="#8e9bc0" />
<rect x="205.30" y="596.50" width="7.90" height="51.20" fill="#8e9bc0" />
<line x1="104.50" y1="647.70" x2="221.50" y2="647.70" stroke="#2a2a2a" stroke-width="1.3" />
<line x1="116.50" y1="647.70" x2="116.50" y2="650.50" stroke="#2a2a2a" stroke-width="0.9" />
<line x1="133.80" y1="647.70" x2="133.80" y2="650.50" stroke="#2a2a2a" stroke-width="0.9" />
<line x1="151.10" y1="647.70" x2="151.10" y2="650.50" stroke="#2a2a2a" stroke-width="0.9" />
<line x1="175.00" y1="647.70" x2="175.00" y2="650.50" stroke="#2a2a2a" stroke-width="0.9" />
<line x1="191.80" y1="647.70" x2="191.80" y2="650.50" stroke="#2a2a2a" stroke-width="0.9" />
<line x1="209.20" y1="647.70" x2="209.20" y2="650.50" stroke="#2a2a2a" stroke-width="0.9" />
<text transform="translate(117.30,657.50) rotate(-45) scale(0.84,1)" font-size="9.30" text-anchor="end" fill="#2a2a2a" font-weight="normal" font-style="normal"  stroke="#2a2a2a" stroke-width="0.2">Basal</text>
<text transform="translate(134.60,657.50) rotate(-45) scale(0.84,1)" font-size="9.30" text-anchor="end" fill="#2a2a2a" font-weight="normal" font-style="normal"  stroke="#2a2a2a" stroke-width="0.2">WT plt</text>
<text transform="translate(151.90,657.50) rotate(-45) scale(0.84,1)" font-size="9.30" text-anchor="end" fill="#2a2a2a" font-weight="normal" font-style="normal"  stroke="#2a2a2a" stroke-width="0.2"><tspan font-style="italic">Lnk</tspan><tspan font-size="6.2" dy="-3.4">−/−</tspan><tspan dy="3.4">plt</tspan></text>
<text transform="translate(175.80,657.50) rotate(-45) scale(0.84,1)" font-size="9.30" text-anchor="end" fill="#2a2a2a" font-weight="normal" font-style="normal"  stroke="#2a2a2a" stroke-width="0.2">Basal</text>
<text transform="translate(192.60,657.50) rotate(-45) scale(0.84,1)" font-size="9.30" text-anchor="end" fill="#2a2a2a" font-weight="normal" font-style="normal"  stroke="#2a2a2a" stroke-width="0.2">WT plt</text>
<text transform="translate(210.00,657.50) rotate(-45) scale(0.84,1)" font-size="9.30" text-anchor="end" fill="#2a2a2a" font-weight="normal" font-style="normal"  stroke="#2a2a2a" stroke-width="0.2"><tspan font-style="italic">Lnk</tspan><tspan font-size="6.2" dy="-3.4">−/−</tspan><tspan dy="3.4">plt</tspan></text>
<text transform="translate(83.30,596.20) rotate(-90)" font-size="9.41" text-anchor="middle" fill="#2a2a2a" font-weight="normal" font-style="normal" textLength="73.7" lengthAdjust="spacingAndGlyphs"  stroke="#2a2a2a" stroke-width="0.2">EETs (% of eosinophil)</text>
<line x1="131.80" y1="581.30" x2="150.50" y2="581.30" stroke="#3a3a3a" stroke-width="1.15" />
<line x1="131.80" y1="578.70" x2="131.80" y2="583.90" stroke="#3a3a3a" stroke-width="1.0" />
<line x1="150.50" y1="578.70" x2="150.50" y2="583.90" stroke="#3a3a3a" stroke-width="1.0" />
<text transform="translate(141.20,576.50)" font-size="8.51" text-anchor="middle" fill="#383838" font-weight="normal" font-style="normal" textLength="33.5" lengthAdjust="spacingAndGlyphs"  stroke="#383838" stroke-width="0.15"><tspan font-style="italic">P</tspan> &lt; .0001</text>
<line x1="118.80" y1="560.50" x2="171.20" y2="560.50" stroke="#3a3a3a" stroke-width="1.15" />
<line x1="118.80" y1="557.90" x2="118.80" y2="563.10" stroke="#3a3a3a" stroke-width="1.0" />
<line x1="171.20" y1="557.90" x2="171.20" y2="563.10" stroke="#3a3a3a" stroke-width="1.0" />
<text transform="translate(145.00,555.50)" font-size="8.51" text-anchor="middle" fill="#383838" font-weight="normal" font-style="normal" textLength="33.5" lengthAdjust="spacingAndGlyphs"  stroke="#383838" stroke-width="0.15"><tspan font-style="italic">P</tspan> &lt; .0001</text>
<line x1="189.30" y1="560.50" x2="208.80" y2="560.50" stroke="#3a3a3a" stroke-width="1.15" />
<line x1="189.30" y1="557.90" x2="189.30" y2="563.10" stroke="#3a3a3a" stroke-width="1.0" />
<line x1="208.80" y1="557.90" x2="208.80" y2="563.10" stroke="#3a3a3a" stroke-width="1.0" />
<text transform="translate(198.60,555.50)" font-size="8.51" text-anchor="middle" fill="#383838" font-weight="normal" font-style="normal" textLength="28.5" lengthAdjust="spacingAndGlyphs"  stroke="#383838" stroke-width="0.15"><tspan font-style="italic">P</tspan> = .001</text>
<line x1="151.30" y1="540.00" x2="213.00" y2="540.00" stroke="#3a3a3a" stroke-width="1.15" />
<line x1="151.30" y1="537.40" x2="151.30" y2="542.60" stroke="#3a3a3a" stroke-width="1.0" />
<line x1="213.00" y1="537.40" x2="213.00" y2="542.60" stroke="#3a3a3a" stroke-width="1.0" />
<text transform="translate(182.20,534.50)" font-size="8.51" text-anchor="middle" fill="#383838" font-weight="normal" font-style="normal" textLength="33.5" lengthAdjust="spacingAndGlyphs"  stroke="#383838" stroke-width="0.15"><tspan font-style="italic">P</tspan> = .0009</text>
<line x1="116.50" y1="640.00" x2="116.50" y2="646.50" stroke="#666" stroke-width="0.9" />
<line x1="113.25" y1="640.00" x2="119.75" y2="640.00" stroke="#666" stroke-width="0.9" />
<line x1="113.25" y1="646.50" x2="119.75" y2="646.50" stroke="#666" stroke-width="0.9" />
<line x1="133.80" y1="631.50" x2="133.80" y2="640.00" stroke="#666" stroke-width="0.9" />
<line x1="130.55" y1="631.50" x2="137.05" y2="631.50" stroke="#666" stroke-width="0.9" />
<line x1="130.55" y1="640.00" x2="137.05" y2="640.00" stroke="#666" stroke-width="0.9" />
<line x1="151.10" y1="611.00" x2="151.10" y2="618.00" stroke="#777" stroke-width="0.9" />
<line x1="147.85" y1="611.00" x2="154.35" y2="611.00" stroke="#777" stroke-width="0.9" />
<line x1="147.85" y1="618.00" x2="154.35" y2="618.00" stroke="#777" stroke-width="0.9" />
<line x1="175.00" y1="617.50" x2="175.00" y2="624.00" stroke="#1f3c78" stroke-width="0.9" />
<line x1="171.75" y1="617.50" x2="178.25" y2="617.50" stroke="#1f3c78" stroke-width="0.9" />
<line x1="171.75" y1="624.00" x2="178.25" y2="624.00" stroke="#1f3c78" stroke-width="0.9" />
<line x1="191.80" y1="605.50" x2="191.80" y2="614.00" stroke="#1f3c78" stroke-width="0.9" />
<line x1="188.55" y1="605.50" x2="195.05" y2="605.50" stroke="#1f3c78" stroke-width="0.9" />
<line x1="188.55" y1="614.00" x2="195.05" y2="614.00" stroke="#1f3c78" stroke-width="0.9" />
<line x1="209.20" y1="593.00" x2="209.20" y2="600.00" stroke="#1f3c78" stroke-width="0.9" />
<line x1="205.95" y1="593.00" x2="212.45" y2="593.00" stroke="#1f3c78" stroke-width="0.9" />
<line x1="205.95" y1="600.00" x2="212.45" y2="600.00" stroke="#1f3c78" stroke-width="0.9" />
<path d="M114.80,635.82L118.20,635.82L116.50,638.78Z" fill="#000"/>
<path d="M112.50,638.32L115.90,638.32L114.20,641.28Z" fill="#000"/>
<path d="M117.70,638.32L121.10,638.32L119.40,641.28Z" fill="#000"/>
<path d="M114.80,639.52L118.20,639.52L116.50,642.48Z" fill="#000"/>
<path d="M112.50,644.82L115.90,644.82L114.20,647.78Z" fill="#000"/>
<path d="M114.80,644.82L118.20,644.82L116.50,647.78Z" fill="#000"/>
<path d="M117.70,644.82L121.10,644.82L119.40,647.78Z" fill="#000"/>
<rect x="130.20" y="630.50" width="3.2" height="3.2" fill="#000"/>
<rect x="132.80" y="628.80" width="3.2" height="3.2" fill="#000"/>
<rect x="135.50" y="627.00" width="3.2" height="3.2" fill="#000"/>
<rect x="135.70" y="630.50" width="3.2" height="3.2" fill="#000"/>
<rect x="132.80" y="635.10" width="3.2" height="3.2" fill="#000"/>
<rect x="135.70" y="638.80" width="3.2" height="3.2" fill="#000"/>
<rect x="129.70" y="641.20" width="3.2" height="3.2" fill="#000"/>
<circle cx="151.10" cy="597.80" r="1.85" fill="#fff" stroke="#000" stroke-width="0.9"/>
<circle cx="148.30" cy="608.50" r="1.85" fill="#fff" stroke="#000" stroke-width="0.9"/>
<circle cx="151.10" cy="608.50" r="1.85" fill="#fff" stroke="#000" stroke-width="0.9"/>
<circle cx="154.40" cy="608.50" r="1.85" fill="#fff" stroke="#000" stroke-width="0.9"/>
<circle cx="154.00" cy="617.70" r="1.85" fill="#fff" stroke="#000" stroke-width="0.9"/>
<circle cx="151.10" cy="620.20" r="1.85" fill="#fff" stroke="#000" stroke-width="0.9"/>
<circle cx="148.30" cy="623.70" r="1.85" fill="#fff" stroke="#000" stroke-width="0.9"/>
<circle cx="154.00" cy="623.70" r="1.85" fill="#fff" stroke="#000" stroke-width="0.9"/>
<path d="M170.40,614.62L173.80,614.62L172.10,617.58Z" fill="#000"/>
<path d="M173.00,616.92L176.40,616.92L174.70,619.88Z" fill="#000"/>
<path d="M175.30,618.12L178.70,618.12L177.00,621.08Z" fill="#000"/>
<path d="M170.80,619.02L174.20,619.02L172.50,621.98Z" fill="#000"/>
<path d="M173.30,623.32L176.70,623.32L175.00,626.28Z" fill="#000"/>
<rect x="190.20" y="600.10" width="3.2" height="3.2" fill="#000"/>
<rect x="187.50" y="603.60" width="3.2" height="3.2" fill="#000"/>
<rect x="193.30" y="603.60" width="3.2" height="3.2" fill="#000"/>
<rect x="191.00" y="611.10" width="3.2" height="3.2" fill="#000"/>
<rect x="188.10" y="613.20" width="3.2" height="3.2" fill="#000"/>
<rect x="190.20" y="618.00" width="3.2" height="3.2" fill="#000"/>
<rect x="190.20" y="633.60" width="3.2" height="3.2" fill="#000"/>
<circle cx="208.80" cy="575.50" r="1.85" fill="#fff" stroke="#000" stroke-width="0.9"/>
<circle cx="205.00" cy="590.00" r="1.85" fill="#fff" stroke="#000" stroke-width="0.9"/>
<circle cx="212.50" cy="590.00" r="1.85" fill="#fff" stroke="#000" stroke-width="0.9"/>
<circle cx="208.10" cy="590.20" r="1.85" fill="#fff" stroke="#000" stroke-width="0.9"/>
<circle cx="207.60" cy="601.10" r="1.85" fill="#fff" stroke="#000" stroke-width="0.9"/>
<circle cx="211.00" cy="601.10" r="1.85" fill="#fff" stroke="#000" stroke-width="0.9"/>
<circle cx="207.60" cy="606.30" r="1.85" fill="#fff" stroke="#000" stroke-width="0.9"/>
<circle cx="211.00" cy="606.30" r="1.85" fill="#fff" stroke="#000" stroke-width="0.9"/>
<rect x="225.50" y="586.00" width="5.40" height="5.40" fill="#4b4f58" />
<rect x="225.50" y="600.60" width="5.40" height="5.40" fill="#1f4a7a" />
<text transform="translate(234.00,591.20)" font-size="8.51" text-anchor="start" fill="#2a2a2a" font-weight="normal" font-style="normal" textLength="24.5" lengthAdjust="spacingAndGlyphs"  stroke="#2a2a2a" stroke-width="0.2">WT eos</text>
<text transform="translate(234.00,605.80)" font-size="8.51" text-anchor="start" fill="#2a2a2a" font-weight="normal" font-style="normal" textLength="33.5" lengthAdjust="spacingAndGlyphs"  stroke="#2a2a2a" stroke-width="0.2"><tspan font-style="italic">Lnk</tspan><tspan font-size="6.2" dy="-3.4">−/−</tspan><tspan dy="3.4"> eos</tspan></text>
<line x1="311.50" y1="545.50" x2="311.50" y2="647.50" stroke="#2a2a2a" stroke-width="1.1" />
<line x1="308.30" y1="548.40" x2="311.50" y2="548.40" stroke="#2a2a2a" stroke-width="0.9" />
<text transform="translate(306.00,551.20) scale(0.98,1)" font-size="8.96" text-anchor="end" fill="#2a2a2a" font-weight="normal" font-style="normal"  stroke="#2a2a2a" stroke-width="0.2">60</text>
<line x1="308.30" y1="581.40" x2="311.50" y2="581.40" stroke="#2a2a2a" stroke-width="0.9" />
<text transform="translate(306.00,584.20) scale(0.98,1)" font-size="8.96" text-anchor="end" fill="#2a2a2a" font-weight="normal" font-style="normal"  stroke="#2a2a2a" stroke-width="0.2">40</text>
<line x1="308.30" y1="614.50" x2="311.50" y2="614.50" stroke="#2a2a2a" stroke-width="0.9" />
<text transform="translate(306.00,617.30) scale(0.98,1)" font-size="8.96" text-anchor="end" fill="#2a2a2a" font-weight="normal" font-style="normal"  stroke="#2a2a2a" stroke-width="0.2">20</text>
<line x1="308.30" y1="647.50" x2="311.50" y2="647.50" stroke="#2a2a2a" stroke-width="0.9" />
<text transform="translate(306.00,650.30) scale(0.98,1)" font-size="8.96" text-anchor="end" fill="#2a2a2a" font-weight="normal" font-style="normal"  stroke="#2a2a2a" stroke-width="0.2">0</text>
<rect x="319.00" y="640.40" width="11.80" height="7.10" fill="#9fa0aa" />
<rect x="339.20" y="613.80" width="11.40" height="33.70" fill="#9fa0aa" />
<rect x="372.10" y="615.70" width="11.70" height="31.80" fill="#8e9bc0" />
<rect x="392.10" y="565.60" width="11.30" height="81.90" fill="#8e9bc0" />
<line x1="311.50" y1="647.50" x2="410.50" y2="647.50" stroke="#2a2a2a" stroke-width="1.3" />
<line x1="324.80" y1="647.50" x2="324.80" y2="650.30" stroke="#2a2a2a" stroke-width="0.9" />
<line x1="345.00" y1="647.50" x2="345.00" y2="650.30" stroke="#2a2a2a" stroke-width="0.9" />
<line x1="377.80" y1="647.50" x2="377.80" y2="650.30" stroke="#2a2a2a" stroke-width="0.9" />
<line x1="397.80" y1="647.50" x2="397.80" y2="650.30" stroke="#2a2a2a" stroke-width="0.9" />
<text transform="translate(325.60,657.50) rotate(-45) scale(0.84,1)" font-size="9.30" text-anchor="end" fill="#2a2a2a" font-weight="normal" font-style="normal"  stroke="#2a2a2a" stroke-width="0.2">Basal</text>
<text transform="translate(345.80,657.50) rotate(-45) scale(0.84,1)" font-size="9.30" text-anchor="end" fill="#2a2a2a" font-weight="normal" font-style="normal"  stroke="#2a2a2a" stroke-width="0.2">PAF</text>
<text transform="translate(378.60,657.50) rotate(-45) scale(0.84,1)" font-size="9.30" text-anchor="end" fill="#2a2a2a" font-weight="normal" font-style="normal"  stroke="#2a2a2a" stroke-width="0.2">Basal</text>
<text transform="translate(398.60,657.50) rotate(-45) scale(0.84,1)" font-size="9.30" text-anchor="end" fill="#2a2a2a" font-weight="normal" font-style="normal"  stroke="#2a2a2a" stroke-width="0.2">PAF</text>
<text transform="translate(290.60,596.40) rotate(-90)" font-size="9.41" text-anchor="middle" fill="#2a2a2a" font-weight="normal" font-style="normal" textLength="73.2" lengthAdjust="spacingAndGlyphs"  stroke="#2a2a2a" stroke-width="0.2">EETs (% of eosinophil)</text>
<line x1="345.00" y1="552.50" x2="398.00" y2="552.50" stroke="#3a3a3a" stroke-width="1.15" />
<line x1="345.00" y1="549.90" x2="345.00" y2="555.10" stroke="#3a3a3a" stroke-width="1.0" />
<line x1="398.00" y1="549.90" x2="398.00" y2="555.10" stroke="#3a3a3a" stroke-width="1.0" />
<text transform="translate(371.50,547.50)" font-size="8.51" text-anchor="middle" fill="#383838" font-weight="normal" font-style="normal" textLength="33.5" lengthAdjust="spacingAndGlyphs"  stroke="#383838" stroke-width="0.15"><tspan font-style="italic">P</tspan> &lt; .0001</text>
<line x1="324.80" y1="636.90" x2="324.80" y2="644.00" stroke="#555" stroke-width="0.9" />
<line x1="321.30" y1="636.90" x2="328.30" y2="636.90" stroke="#555" stroke-width="0.9" />
<line x1="321.30" y1="644.00" x2="328.30" y2="644.00" stroke="#555" stroke-width="0.9" />
<line x1="345.00" y1="606.50" x2="345.00" y2="621.00" stroke="#555" stroke-width="0.9" />
<line x1="341.00" y1="606.50" x2="349.00" y2="606.50" stroke="#555" stroke-width="0.9" />
<line x1="341.00" y1="621.00" x2="349.00" y2="621.00" stroke="#555" stroke-width="0.9" />
<line x1="377.80" y1="609.40" x2="377.80" y2="621.00" stroke="#eef" stroke-width="0.9" />
<line x1="374.30" y1="609.40" x2="381.30" y2="609.40" stroke="#eef" stroke-width="0.9" />
<line x1="374.30" y1="621.00" x2="381.30" y2="621.00" stroke="#1f3c78" stroke-width="0.9" />
<line x1="397.80" y1="562.00" x2="397.80" y2="569.00" stroke="#222" stroke-width="0.9" />
<line x1="393.80" y1="562.00" x2="401.80" y2="562.00" stroke="#222" stroke-width="0.9" />
<line x1="393.80" y1="569.00" x2="401.80" y2="569.00" stroke="#1f3c78" stroke-width="0.9" />
<path d="M322.90,631.85L326.70,631.85L324.80,635.15Z" fill="#000"/>
<path d="M318.50,636.05L322.30,636.05L320.40,639.35Z" fill="#000"/>
<path d="M327.70,637.95L331.50,637.95L329.60,641.25Z" fill="#000"/>
<path d="M322.90,644.95L326.70,644.95L324.80,648.25Z" fill="#000"/>
<rect x="338.25" y="603.25" width="3.5" height="3.5" fill="#000"/>
<rect x="347.45" y="607.05" width="3.5" height="3.5" fill="#000"/>
<rect x="343.25" y="623.25" width="3.5" height="3.5" fill="#000"/>
<path d="M375.80,608.65L379.60,608.65L377.70,605.35Z" fill="#000"/>
<path d="M371.30,614.55L375.10,614.55L373.20,611.25Z" fill="#000"/>
<path d="M380.80,616.65L384.60,616.65L382.70,613.35Z" fill="#000"/>
<path d="M371.30,620.95L375.10,620.95L373.20,617.65Z" fill="#000"/>
<rect x="396.05" y="556.85" width="3.5" height="3.5" fill="#000"/>
<rect x="396.05" y="559.45" width="3.5" height="3.5" fill="#000"/>
<rect x="396.05" y="563.15" width="3.5" height="3.5" fill="#000"/>
<rect x="396.05" y="566.45" width="3.5" height="3.5" fill="#000"/>
<rect x="414.40" y="586.20" width="5.40" height="5.40" fill="#4b4f58" />
<rect x="414.40" y="600.80" width="5.40" height="5.40" fill="#1f4a7a" />
<text transform="translate(423.00,591.30)" font-size="8.51" text-anchor="start" fill="#2a2a2a" font-weight="normal" font-style="normal" textLength="24.5" lengthAdjust="spacingAndGlyphs"  stroke="#2a2a2a" stroke-width="0.2">WT eos</text>
<text transform="translate(423.00,605.90)" font-size="8.51" text-anchor="start" fill="#2a2a2a" font-weight="normal" font-style="normal" textLength="33.5" lengthAdjust="spacingAndGlyphs"  stroke="#2a2a2a" stroke-width="0.2"><tspan font-style="italic">Lnk</tspan><tspan font-size="6.2" dy="-3.4">−/−</tspan><tspan dy="3.4"> eos</tspan></text>
</svg>
</body></html>
